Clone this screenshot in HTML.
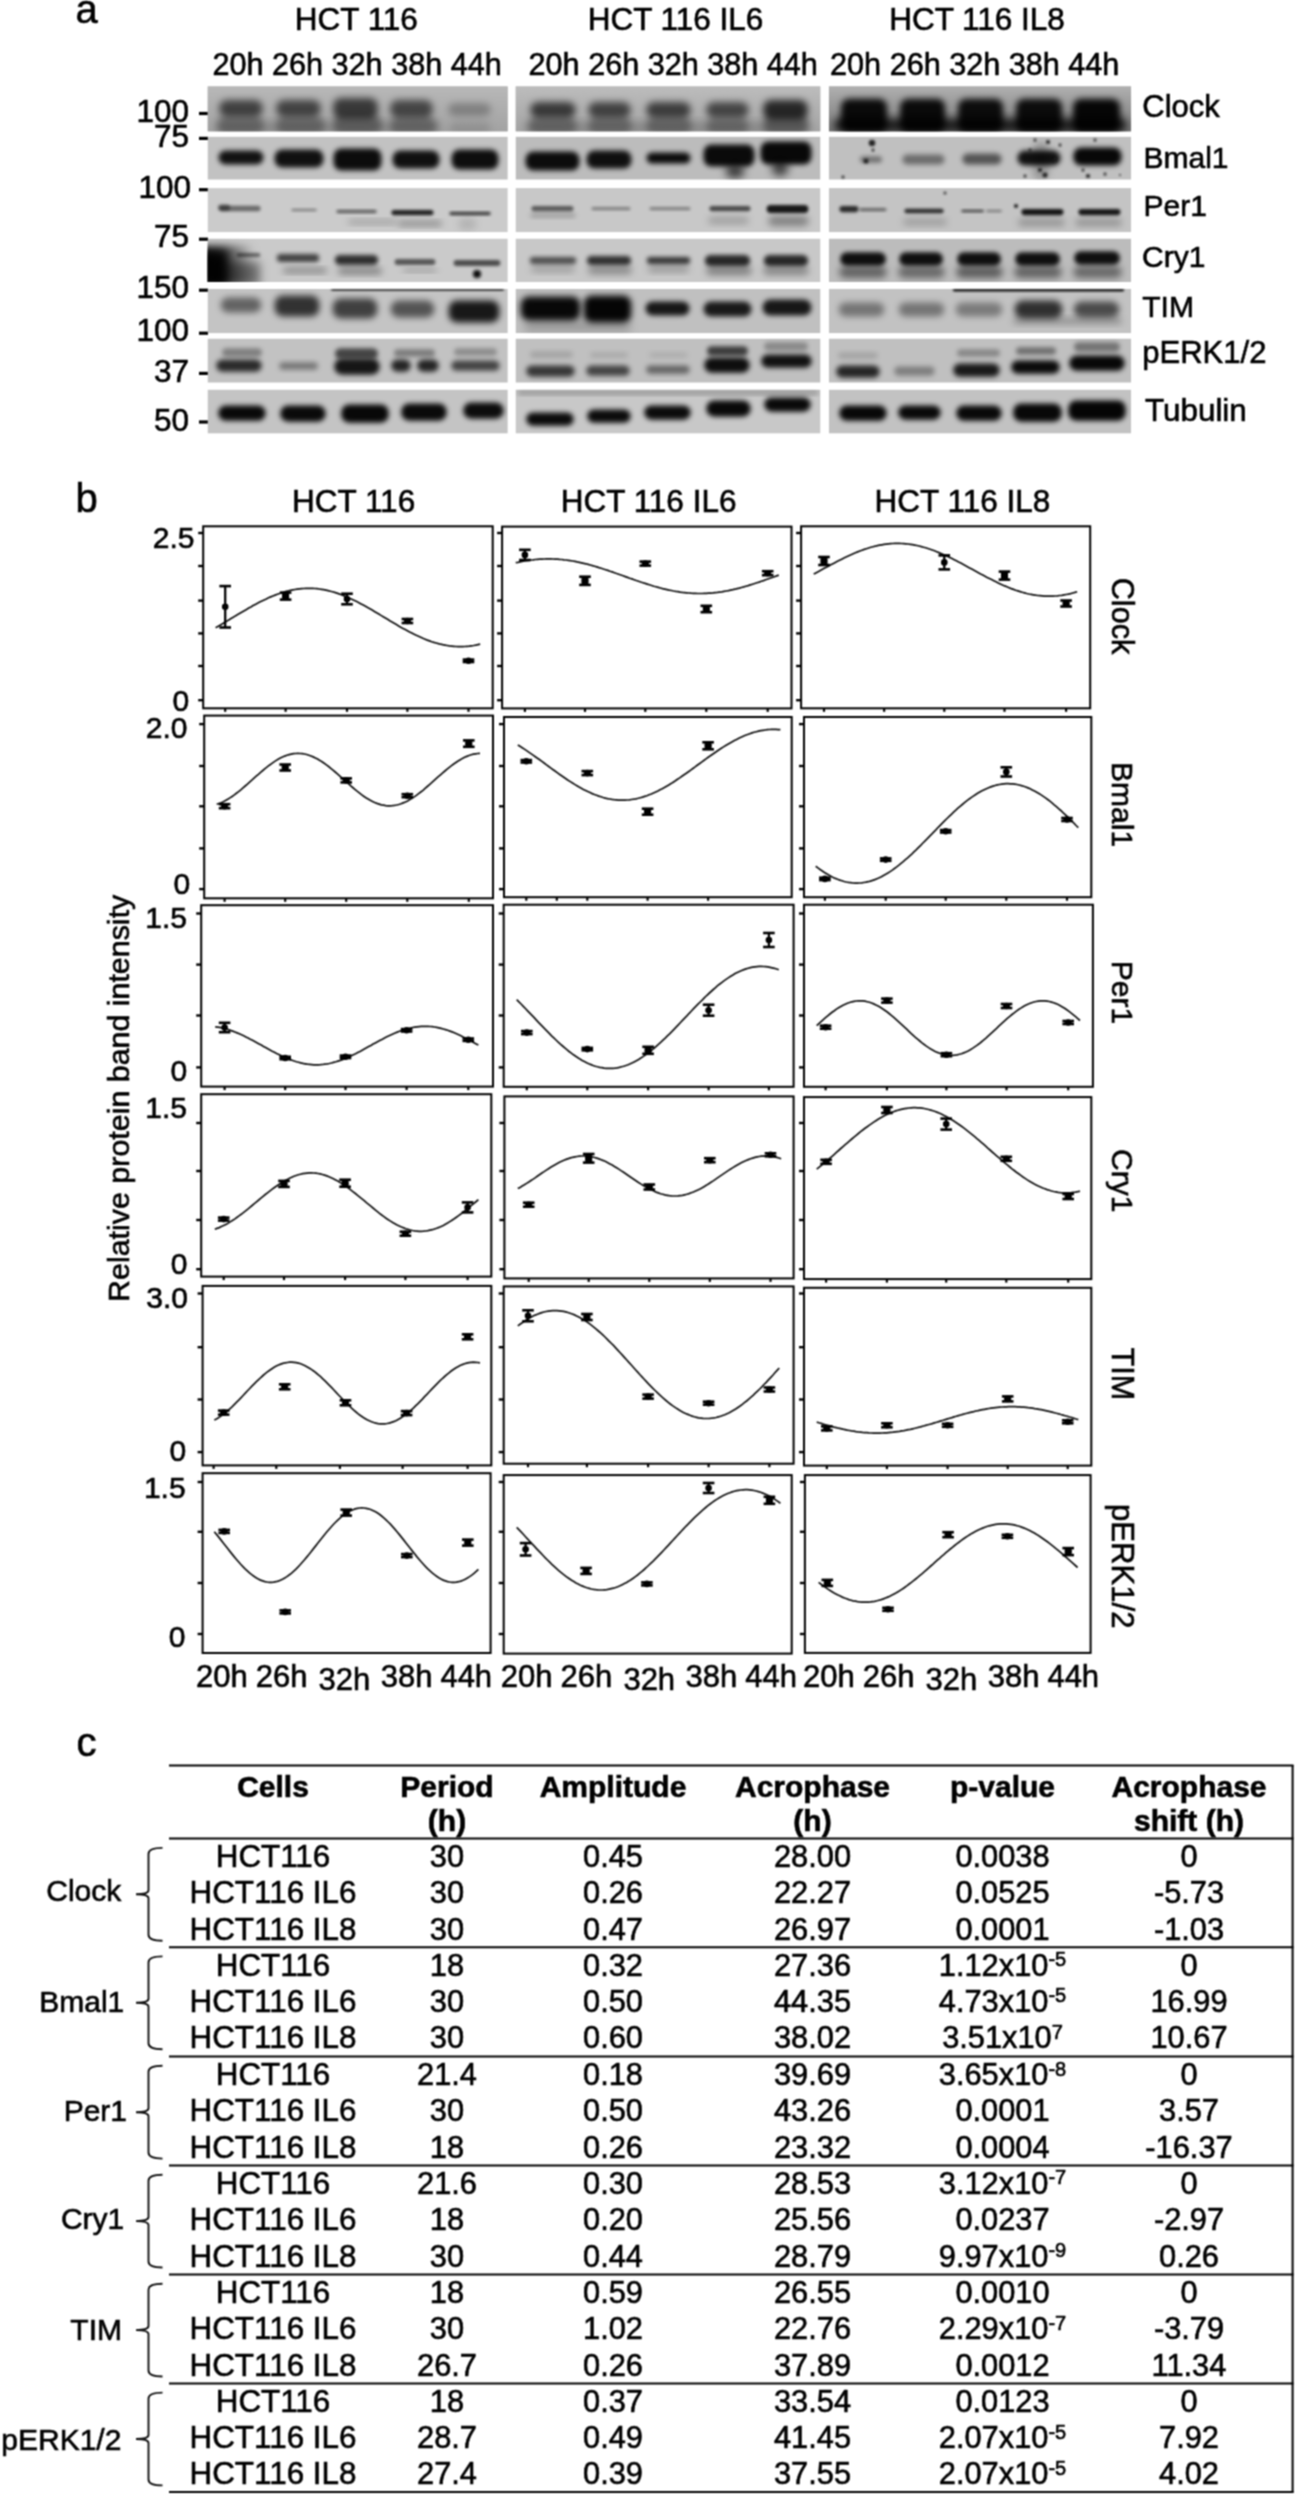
<!DOCTYPE html><html><head><meta charset="utf-8"><title>Figure</title><style>html,body{margin:0;padding:0;background:#fff;}body{width:1295px;height:2495px;overflow:hidden;}svg{display:block;}text{stroke:#000;stroke-width:0.6px;}</style></head><body>
<div id="w">
<svg width="1295" height="2495" viewBox="0 0 1295 2495" font-family="'Liberation Sans', Arial, sans-serif" fill="#000">
<rect width="1295" height="2495" fill="#fff"/>
<filter id="soft" x="0" y="0" width="1295" height="2495" filterUnits="userSpaceOnUse" color-interpolation-filters="sRGB"><feConvolveMatrix order="3" kernelMatrix="1 2 1 2 4 2 1 2 1" divisor="16" edgeMode="duplicate"/></filter>
<g filter="url(#soft)">
<rect width="1295" height="2495" fill="#fff"/>
<text x="75.5" y="22.5" font-size="40">a</text>
<text x="356.3" y="30.3" font-size="31.5" text-anchor="middle">HCT 116</text>
<text x="675.5" y="30.3" font-size="31.5" text-anchor="middle">HCT 116 IL6</text>
<text x="977.0" y="30.3" font-size="31.5" text-anchor="middle">HCT 116 IL8</text>
<text x="212.5" y="74.6" font-size="30.6">20h 26h 32h 38h 44h</text>
<text x="528.6" y="74.6" font-size="30.6">20h 26h 32h 38h 44h</text>
<text x="830.1" y="74.6" font-size="30.6">20h 26h 32h 38h 44h</text>
<text x="189.0" y="121.8" font-size="31.5" text-anchor="end" stroke-width="0.9">100</text>
<rect x="199" y="111.9" width="9" height="3.2" fill="#000"/>
<text x="189.0" y="146.7" font-size="31.5" text-anchor="end" stroke-width="0.9">75</text>
<rect x="199" y="136.8" width="9" height="3.2" fill="#000"/>
<text x="191.0" y="197.6" font-size="31.5" text-anchor="end" stroke-width="0.9">100</text>
<rect x="199" y="188.1" width="9" height="3.2" fill="#000"/>
<text x="189.0" y="247.4" font-size="31.5" text-anchor="end" stroke-width="0.9">75</text>
<rect x="199" y="237.6" width="9" height="3.2" fill="#000"/>
<text x="189.0" y="297.9" font-size="31.5" text-anchor="end" stroke-width="0.9">150</text>
<rect x="199" y="288.6" width="9" height="3.2" fill="#000"/>
<text x="189.0" y="341.2" font-size="31.5" text-anchor="end" stroke-width="0.9">100</text>
<rect x="199" y="331.6" width="9" height="3.2" fill="#000"/>
<text x="189.0" y="381.6" font-size="31.5" text-anchor="end" stroke-width="0.9">37</text>
<rect x="199" y="371.8" width="9" height="3.2" fill="#000"/>
<text x="189.0" y="430.6" font-size="31.5" text-anchor="end" stroke-width="0.9">50</text>
<rect x="199" y="420.4" width="9" height="3.2" fill="#000"/>
<text x="1142.3" y="117.4" font-size="31">Clock</text>
<text x="1143.5" y="167.5" font-size="30">Bmal1</text>
<text x="1143.5" y="216.2" font-size="30">Per1</text>
<text x="1142.0" y="267.2" font-size="30">Cry1</text>
<text x="1142.3" y="317.2" font-size="30">TIM</text>
<text x="1142.3" y="363.0" font-size="31">pERK1/2</text>
<text x="1145.0" y="420.8" font-size="31.4">Tubulin</text>
<defs>
<filter id="f1" x="-50%" y="-50%" width="200%" height="200%"><feGaussianBlur stdDeviation="1"/></filter>
<filter id="f1_2" x="-50%" y="-50%" width="200%" height="200%"><feGaussianBlur stdDeviation="1.2"/></filter>
<filter id="f1_4" x="-50%" y="-50%" width="200%" height="200%"><feGaussianBlur stdDeviation="1.4"/></filter>
<filter id="f1_5" x="-50%" y="-50%" width="200%" height="200%"><feGaussianBlur stdDeviation="1.5"/></filter>
<filter id="f1_6" x="-50%" y="-50%" width="200%" height="200%"><feGaussianBlur stdDeviation="1.6"/></filter>
<filter id="f1_8" x="-50%" y="-50%" width="200%" height="200%"><feGaussianBlur stdDeviation="1.8"/></filter>
<filter id="f2" x="-50%" y="-50%" width="200%" height="200%"><feGaussianBlur stdDeviation="2"/></filter>
<filter id="f2_2" x="-50%" y="-50%" width="200%" height="200%"><feGaussianBlur stdDeviation="2.2"/></filter>
<filter id="f2_3" x="-50%" y="-50%" width="200%" height="200%"><feGaussianBlur stdDeviation="2.3"/></filter>
<filter id="f2_4" x="-50%" y="-50%" width="200%" height="200%"><feGaussianBlur stdDeviation="2.4"/></filter>
<filter id="f2_5" x="-50%" y="-50%" width="200%" height="200%"><feGaussianBlur stdDeviation="2.5"/></filter>
<filter id="f2_6" x="-50%" y="-50%" width="200%" height="200%"><feGaussianBlur stdDeviation="2.6"/></filter>
<filter id="f2_8" x="-50%" y="-50%" width="200%" height="200%"><feGaussianBlur stdDeviation="2.8"/></filter>
<filter id="f3" x="-50%" y="-50%" width="200%" height="200%"><feGaussianBlur stdDeviation="3"/></filter>
<filter id="f3_3" x="-50%" y="-50%" width="200%" height="200%"><feGaussianBlur stdDeviation="3.3"/></filter>
<filter id="f3_5" x="-50%" y="-50%" width="200%" height="200%"><feGaussianBlur stdDeviation="3.5"/></filter>
<filter id="f3_6" x="-50%" y="-50%" width="200%" height="200%"><feGaussianBlur stdDeviation="3.6"/></filter>
<filter id="f3_8" x="-50%" y="-50%" width="200%" height="200%"><feGaussianBlur stdDeviation="3.8"/></filter>
<filter id="f4" x="-50%" y="-50%" width="200%" height="200%"><feGaussianBlur stdDeviation="4"/></filter>
<filter id="f5" x="-50%" y="-50%" width="200%" height="200%"><feGaussianBlur stdDeviation="5"/></filter>
<clipPath id="c00"><rect x="207.5" y="86.3" width="300.3" height="45.3"/></clipPath>
<clipPath id="c01"><rect x="515.5" y="86.3" width="305.0" height="45.3"/></clipPath>
<clipPath id="c02"><rect x="828.8" y="86.3" width="302.4" height="45.3"/></clipPath>
<clipPath id="c10"><rect x="207.5" y="136.6" width="300.3" height="43.1"/></clipPath>
<clipPath id="c11"><rect x="515.5" y="136.6" width="305.0" height="43.1"/></clipPath>
<clipPath id="c12"><rect x="828.8" y="136.6" width="302.4" height="43.1"/></clipPath>
<clipPath id="c20"><rect x="207.5" y="188.1" width="300.3" height="44.2"/></clipPath>
<clipPath id="c21"><rect x="515.5" y="188.1" width="305.0" height="44.2"/></clipPath>
<clipPath id="c22"><rect x="828.8" y="188.1" width="302.4" height="44.2"/></clipPath>
<clipPath id="c30"><rect x="207.5" y="238.5" width="300.3" height="43.5"/></clipPath>
<clipPath id="c31"><rect x="515.5" y="238.5" width="305.0" height="43.5"/></clipPath>
<clipPath id="c32"><rect x="828.8" y="238.5" width="302.4" height="43.5"/></clipPath>
<clipPath id="c40"><rect x="207.5" y="288.8" width="300.3" height="44.5"/></clipPath>
<clipPath id="c41"><rect x="515.5" y="288.8" width="305.0" height="44.5"/></clipPath>
<clipPath id="c42"><rect x="828.8" y="288.8" width="302.4" height="44.5"/></clipPath>
<clipPath id="c50"><rect x="207.5" y="338.5" width="300.3" height="44.2"/></clipPath>
<clipPath id="c51"><rect x="515.5" y="338.5" width="305.0" height="44.2"/></clipPath>
<clipPath id="c52"><rect x="828.8" y="338.5" width="302.4" height="44.2"/></clipPath>
<clipPath id="c60"><rect x="207.5" y="389.6" width="300.3" height="44.0"/></clipPath>
<clipPath id="c61"><rect x="515.5" y="389.6" width="305.0" height="44.0"/></clipPath>
<clipPath id="c62"><rect x="828.8" y="389.6" width="302.4" height="44.0"/></clipPath>
</defs>
<g clip-path="url(#c00)">
<rect x="207.5" y="86.3" width="300.3" height="45.3" fill="rgb(180,180,180)"/>
<linearGradient id="g00" x1="0" y1="0" x2="0" y2="1"><stop offset="0" stop-color="rgb(184,184,184)"/><stop offset="1" stop-color="rgb(162,162,162)"/></linearGradient>
<rect x="207.5" y="86.3" width="300.3" height="45.3" fill="url(#g00)"/>
<rect x="219.2" y="99.9" width="43.5" height="17.1" rx="8.0" fill="#000" fill-opacity="0.631" filter="url(#f3_6)"/>
<rect x="276.2" y="99.9" width="44.5" height="17.1" rx="8.0" fill="#000" fill-opacity="0.620" filter="url(#f3_6)"/>
<rect x="333.2" y="97.9" width="44.5" height="21.1" rx="8.0" fill="#000" fill-opacity="0.676" filter="url(#f3_6)"/>
<rect x="390.2" y="99.9" width="42.5" height="18.1" rx="8.0" fill="#000" fill-opacity="0.605" filter="url(#f3_6)"/>
<rect x="448.2" y="102.9" width="42.5" height="13.1" rx="6.6" fill="#000" fill-opacity="0.257" filter="url(#f3_6)"/>
<rect x="217.4" y="116.1" width="46.2" height="17.9" rx="8.0" fill="#000" fill-opacity="0.310" filter="url(#f3_8)"/>
<rect x="276.4" y="116.1" width="48.2" height="17.9" rx="8.0" fill="#000" fill-opacity="0.310" filter="url(#f3_8)"/>
<rect x="333.4" y="115.1" width="48.2" height="18.9" rx="8.0" fill="#000" fill-opacity="0.352" filter="url(#f3_8)"/>
<rect x="390.4" y="117.1" width="46.2" height="16.9" rx="8.0" fill="#000" fill-opacity="0.301" filter="url(#f3_8)"/>
<rect x="449.4" y="122.1" width="41.2" height="11.9" rx="5.9" fill="#000" fill-opacity="0.117" filter="url(#f3_8)"/>
<rect x="214.5" y="121.7" width="226.0" height="10.6" rx="5.3" fill="#000" fill-opacity="0.199" filter="url(#f5)"/>
</g>
<g clip-path="url(#c01)">
<rect x="515.5" y="86.3" width="305.0" height="45.3" fill="rgb(184,184,184)"/>
<linearGradient id="g01" x1="0" y1="0" x2="0" y2="1"><stop offset="0" stop-color="rgb(188,188,188)"/><stop offset="1" stop-color="rgb(164,164,164)"/></linearGradient>
<rect x="515.5" y="86.3" width="305.0" height="45.3" fill="url(#g01)"/>
<rect x="530.2" y="101.9" width="45.5" height="16.1" rx="8.0" fill="#000" fill-opacity="0.677" filter="url(#f3_6)"/>
<rect x="588.2" y="101.9" width="42.5" height="16.1" rx="8.0" fill="#000" fill-opacity="0.633" filter="url(#f3_6)"/>
<rect x="646.2" y="101.9" width="44.5" height="16.1" rx="8.0" fill="#000" fill-opacity="0.655" filter="url(#f3_6)"/>
<rect x="706.2" y="101.9" width="42.5" height="16.1" rx="8.0" fill="#000" fill-opacity="0.611" filter="url(#f3_6)"/>
<rect x="763.2" y="99.9" width="44.5" height="20.1" rx="8.0" fill="#000" fill-opacity="0.781" filter="url(#f3_6)"/>
<rect x="528.4" y="117.1" width="48.2" height="16.9" rx="8.0" fill="#000" fill-opacity="0.317" filter="url(#f3_8)"/>
<rect x="588.4" y="117.1" width="43.2" height="16.9" rx="8.0" fill="#000" fill-opacity="0.306" filter="url(#f3_8)"/>
<rect x="646.4" y="117.1" width="45.2" height="16.9" rx="8.0" fill="#000" fill-opacity="0.317" filter="url(#f3_8)"/>
<rect x="706.4" y="118.1" width="42.2" height="15.9" rx="7.9" fill="#000" fill-opacity="0.298" filter="url(#f3_8)"/>
<rect x="763.4" y="116.1" width="45.2" height="17.9" rx="8.0" fill="#000" fill-opacity="0.379" filter="url(#f3_8)"/>
<rect x="524.5" y="121.7" width="286.0" height="10.6" rx="5.3" fill="#000" fill-opacity="0.210" filter="url(#f5)"/>
</g>
<g clip-path="url(#c02)">
<rect x="828.8" y="86.3" width="302.4" height="45.3" fill="rgb(168,168,168)"/>
<linearGradient id="g02" x1="0" y1="0" x2="0" y2="1"><stop offset="0" stop-color="rgb(176,176,176)"/><stop offset="1" stop-color="rgb(120,120,120)"/></linearGradient>
<rect x="828.8" y="86.3" width="302.4" height="45.3" fill="url(#g02)"/>
<rect x="841.0" y="98.8" width="46.1" height="33.4" rx="8.0" fill="#000" fill-opacity="0.932" filter="url(#f3_3)"/>
<rect x="900.0" y="98.8" width="45.1" height="33.4" rx="8.0" fill="#000" fill-opacity="0.932" filter="url(#f3_3)"/>
<rect x="958.0" y="98.8" width="45.1" height="33.4" rx="8.0" fill="#000" fill-opacity="0.920" filter="url(#f3_3)"/>
<rect x="1016.0" y="98.8" width="46.1" height="33.4" rx="8.0" fill="#000" fill-opacity="0.920" filter="url(#f3_3)"/>
<rect x="1073.0" y="98.8" width="47.1" height="33.4" rx="8.0" fill="#000" fill-opacity="0.955" filter="url(#f3_3)"/>
<rect x="833.6" y="118.2" width="293.8" height="13.7" rx="6.8" fill="#000" fill-opacity="0.784" filter="url(#f4)"/>
</g>
<g clip-path="url(#c10)">
<rect x="207.5" y="136.6" width="300.3" height="43.1" fill="rgb(194,194,194)"/>
<rect x="218.5" y="150.5" width="45.0" height="14.0" rx="7.0" fill="#000" fill-opacity="0.908" filter="url(#f2_8)"/>
<rect x="274.5" y="149.5" width="49.0" height="18.0" rx="8.0" fill="#000" fill-opacity="0.919" filter="url(#f2_8)"/>
<rect x="333.5" y="148.5" width="48.0" height="22.0" rx="8.0" fill="#000" fill-opacity="0.938" filter="url(#f2_8)"/>
<rect x="392.5" y="150.5" width="47.0" height="18.0" rx="8.0" fill="#000" fill-opacity="0.919" filter="url(#f2_8)"/>
<rect x="451.5" y="149.5" width="47.0" height="20.0" rx="8.0" fill="#000" fill-opacity="0.928" filter="url(#f2_8)"/>
</g>
<g clip-path="url(#c11)">
<rect x="515.5" y="136.6" width="305.0" height="43.1" fill="rgb(188,188,188)"/>
<rect x="525.5" y="151.5" width="54.0" height="19.0" rx="8.0" fill="#000" fill-opacity="0.937" filter="url(#f2_8)"/>
<rect x="586.5" y="150.5" width="45.0" height="18.0" rx="8.0" fill="#000" fill-opacity="0.916" filter="url(#f2_8)"/>
<rect x="646.5" y="152.5" width="44.0" height="11.0" rx="5.5" fill="#000" fill-opacity="0.941" filter="url(#f2_8)"/>
<rect x="703.5" y="144.5" width="51.0" height="22.0" rx="8.0" fill="#000" fill-opacity="0.947" filter="url(#f2_8)"/>
<rect x="760.5" y="141.5" width="51.0" height="23.0" rx="8.0" fill="#000" fill-opacity="0.957" filter="url(#f2_8)"/>
<rect x="725.6" y="164.2" width="18.8" height="13.7" rx="6.8" fill="#000" fill-opacity="0.701" filter="url(#f4)"/>
<rect x="771.6" y="160.2" width="16.8" height="15.7" rx="7.8" fill="#000" fill-opacity="0.685" filter="url(#f4)"/>
</g>
<g clip-path="url(#c12)">
<rect x="828.8" y="136.6" width="302.4" height="43.1" fill="rgb(192,192,192)"/>
<rect x="860.0" y="156.2" width="22.0" height="6.6" rx="3.3" fill="#000" fill-opacity="0.402" filter="url(#f2_2)"/>
<rect x="902.3" y="154.4" width="42.3" height="10.2" rx="5.1" fill="#000" fill-opacity="0.439" filter="url(#f2_6)"/>
<rect x="962.3" y="153.4" width="39.3" height="11.2" rx="5.6" fill="#000" fill-opacity="0.559" filter="url(#f2_6)"/>
<rect x="1017.3" y="150.4" width="43.3" height="15.2" rx="7.6" fill="#000" fill-opacity="0.909" filter="url(#f2_6)"/>
<rect x="1073.3" y="147.4" width="48.3" height="18.2" rx="8.0" fill="#000" fill-opacity="0.959" filter="url(#f2_6)"/>
<rect x="1033.2" y="141.9" width="15.7" height="38.2" rx="8.0" fill="#000" fill-opacity="0.224" filter="url(#f3_5)"/>
<circle cx="872" cy="143" r="3.2" fill="#222" filter="url(#f1)"/>
<circle cx="873" cy="150" r="1.5" fill="#222" filter="url(#f1)"/>
<circle cx="866" cy="161" r="2.5" fill="#222" filter="url(#f1)"/>
<circle cx="1035" cy="140" r="1.5" fill="#222" filter="url(#f1)"/>
<circle cx="1048" cy="142" r="2" fill="#222" filter="url(#f1)"/>
<circle cx="1030" cy="150" r="1.5" fill="#222" filter="url(#f1)"/>
<circle cx="1060" cy="145" r="1.5" fill="#222" filter="url(#f1)"/>
<circle cx="1045" cy="175" r="2.5" fill="#222" filter="url(#f1)"/>
<circle cx="1025" cy="176" r="1.5" fill="#222" filter="url(#f1)"/>
<circle cx="1040" cy="170" r="2" fill="#222" filter="url(#f1)"/>
<circle cx="1083" cy="170" r="1.5" fill="#222" filter="url(#f1)"/>
<circle cx="1095" cy="140" r="1.5" fill="#222" filter="url(#f1)"/>
<circle cx="1105" cy="174" r="1.5" fill="#222" filter="url(#f1)"/>
<circle cx="1120" cy="175" r="1" fill="#222" filter="url(#f1)"/>
<circle cx="843" cy="177" r="1.5" fill="#222" filter="url(#f1)"/>
<circle cx="1088" cy="176" r="2" fill="#222" filter="url(#f1)"/>
<circle cx="1055" cy="160" r="2" fill="#222" filter="url(#f1)"/>
</g>
<g clip-path="url(#c20)">
<rect x="207.5" y="188.1" width="300.3" height="44.2" fill="rgb(203,203,203)"/>
<rect x="219.3" y="205.8" width="41.3" height="5.4" rx="2.7" fill="#000" fill-opacity="0.484" filter="url(#f1_5)"/>
<rect x="291.4" y="208.8" width="25.3" height="2.4" rx="1.2" fill="#000" fill-opacity="0.387" filter="url(#f1_5)"/>
<rect x="336.4" y="209.8" width="40.3" height="3.4" rx="1.7" fill="#000" fill-opacity="0.539" filter="url(#f1_5)"/>
<rect x="391.4" y="209.9" width="42.1" height="5.3" rx="2.6" fill="#000" fill-opacity="0.848" filter="url(#f1_6)"/>
<rect x="449.4" y="211.8" width="41.3" height="3.4" rx="1.7" fill="#000" fill-opacity="0.712" filter="url(#f1_5)"/>
<rect x="348.1" y="219.9" width="48.7" height="4.2" rx="2.1" fill="#000" fill-opacity="0.272" filter="url(#f3_5)"/>
<rect x="398.1" y="220.9" width="43.7" height="5.2" rx="2.6" fill="#000" fill-opacity="0.344" filter="url(#f3_5)"/>
<rect x="458.1" y="217.9" width="18.7" height="12.2" rx="6.1" fill="#000" fill-opacity="0.113" filter="url(#f3_5)"/>
<rect x="218" y="204.5" width="12" height="6" rx="3" fill="#000" fill-opacity=".45" filter="url(#f1_5)"/>
</g>
<g clip-path="url(#c21)">
<rect x="515.5" y="188.1" width="305.0" height="44.2" fill="rgb(200,200,200)"/>
<rect x="531.4" y="205.9" width="42.1" height="5.3" rx="2.6" fill="#000" fill-opacity="0.555" filter="url(#f1_6)"/>
<rect x="591.4" y="206.9" width="39.1" height="3.3" rx="1.6" fill="#000" fill-opacity="0.361" filter="url(#f1_6)"/>
<rect x="649.4" y="206.9" width="41.1" height="3.3" rx="1.6" fill="#000" fill-opacity="0.361" filter="url(#f1_6)"/>
<rect x="709.4" y="205.9" width="41.1" height="5.3" rx="2.6" fill="#000" fill-opacity="0.639" filter="url(#f1_6)"/>
<rect x="766.6" y="205.0" width="41.8" height="8.1" rx="4.0" fill="#000" fill-opacity="0.882" filter="url(#f1_8)"/>
<rect x="768.1" y="215.9" width="40.7" height="10.2" rx="5.1" fill="#000" fill-opacity="0.351" filter="url(#f3_5)"/>
<rect x="708.1" y="216.9" width="40.7" height="7.2" rx="3.6" fill="#000" fill-opacity="0.215" filter="url(#f3_5)"/>
<rect x="530.2" y="213.3" width="45.5" height="4.3" rx="2.2" fill="#000" fill-opacity="0.246" filter="url(#f2_5)"/>
</g>
<g clip-path="url(#c22)">
<rect x="828.8" y="188.1" width="302.4" height="44.2" fill="rgb(196,196,196)"/>
<rect x="839.4" y="205.9" width="19.1" height="6.3" rx="3.1" fill="#000" fill-opacity="0.784" filter="url(#f1_6)"/>
<rect x="859.4" y="207.9" width="27.1" height="3.3" rx="1.6" fill="#000" fill-opacity="0.486" filter="url(#f1_6)"/>
<rect x="904.4" y="208.8" width="39.3" height="4.4" rx="2.2" fill="#000" fill-opacity="0.781" filter="url(#f1_5)"/>
<rect x="961.3" y="209.8" width="22.5" height="2.5" rx="1.2" fill="#000" fill-opacity="0.701" filter="url(#f1_4)"/>
<rect x="986.3" y="209.8" width="15.5" height="2.5" rx="1.2" fill="#000" fill-opacity="0.375" filter="url(#f1_4)"/>
<rect x="1021.4" y="208.9" width="42.1" height="6.3" rx="3.1" fill="#000" fill-opacity="0.902" filter="url(#f1_6)"/>
<rect x="1078.4" y="208.9" width="42.1" height="6.3" rx="3.1" fill="#000" fill-opacity="0.892" filter="url(#f1_6)"/>
<rect x="903.1" y="218.9" width="43.7" height="6.2" rx="3.1" fill="#000" fill-opacity="0.228" filter="url(#f3_5)"/>
<rect x="1018.1" y="218.9" width="46.7" height="7.2" rx="3.6" fill="#000" fill-opacity="0.263" filter="url(#f3_5)"/>
<rect x="1075.2" y="218.9" width="46.7" height="7.2" rx="3.6" fill="#000" fill-opacity="0.263" filter="url(#f3_5)"/>
<circle cx="1016" cy="206" r="2" fill="#222" filter="url(#f1)"/><circle cx="945" cy="193" r="1.5" fill="#333" filter="url(#f1)"/>
</g>
<g clip-path="url(#c30)">
<rect x="207.5" y="238.5" width="300.3" height="43.5" fill="rgb(202,202,202)"/>
<rect x="236.6" y="253.0" width="23.8" height="4.1" rx="2.0" fill="#000" fill-opacity="0.495" filter="url(#f1_8)"/>
<rect x="276.8" y="254.1" width="42.4" height="7.8" rx="3.9" fill="#000" fill-opacity="0.677" filter="url(#f2)"/>
<rect x="334.8" y="255.1" width="43.4" height="9.8" rx="4.9" fill="#000" fill-opacity="0.773" filter="url(#f2)"/>
<rect x="394.6" y="259.0" width="40.8" height="6.1" rx="3.0" fill="#000" fill-opacity="0.567" filter="url(#f1_8)"/>
<rect x="453.6" y="260.0" width="46.8" height="6.1" rx="3.0" fill="#000" fill-opacity="0.622" filter="url(#f1_8)"/>
<rect x="283.1" y="267.9" width="43.7" height="5.2" rx="2.6" fill="#000" fill-opacity="0.382" filter="url(#f3_5)"/>
<rect x="338.1" y="267.9" width="43.7" height="6.2" rx="3.1" fill="#000" fill-opacity="0.411" filter="url(#f3_5)"/>
<rect x="403.1" y="268.9" width="33.7" height="3.2" rx="1.6" fill="#000" fill-opacity="0.335" filter="url(#f3_5)"/>
<linearGradient id="cs" x1="0" y1="0" x2="1" y2="0"><stop offset="0" stop-color="#000" stop-opacity=".95"/><stop offset=".45" stop-color="#000" stop-opacity=".8"/><stop offset="1" stop-color="#000" stop-opacity="0"/></linearGradient>
<rect x="196" y="246" width="58" height="40" fill="url(#cs)" filter="url(#f4)"/>
<rect x="196" y="252" width="30" height="34" fill="#000" fill-opacity=".92" filter="url(#f4)"/>
<rect x="215" y="262" width="45" height="24" fill="#000" fill-opacity=".45" filter="url(#f5)"/>
<circle cx="477" cy="274" r="4" fill="#111" filter="url(#f1_5)"/>
</g>
<g clip-path="url(#c31)">
<rect x="515.5" y="238.5" width="305.0" height="43.5" fill="rgb(200,200,200)"/>
<rect x="529.8" y="257.1" width="46.4" height="6.8" rx="3.4" fill="#000" fill-opacity="0.614" filter="url(#f2)"/>
<rect x="586.8" y="256.1" width="44.4" height="8.8" rx="4.4" fill="#000" fill-opacity="0.761" filter="url(#f2)"/>
<rect x="646.8" y="257.1" width="43.4" height="6.8" rx="3.4" fill="#000" fill-opacity="0.734" filter="url(#f2)"/>
<rect x="704.8" y="255.1" width="45.4" height="10.8" rx="5.4" fill="#000" fill-opacity="0.805" filter="url(#f2)"/>
<rect x="763.8" y="255.1" width="44.4" height="10.8" rx="5.4" fill="#000" fill-opacity="0.805" filter="url(#f2)"/>
<rect x="588.1" y="265.9" width="43.7" height="8.2" rx="4.1" fill="#000" fill-opacity="0.329" filter="url(#f3_5)"/>
<rect x="706.1" y="265.9" width="45.7" height="9.2" rx="4.6" fill="#000" fill-opacity="0.369" filter="url(#f3_5)"/>
<rect x="763.1" y="265.9" width="45.7" height="9.2" rx="4.6" fill="#000" fill-opacity="0.339" filter="url(#f3_5)"/>
<rect x="531.1" y="265.9" width="43.7" height="6.2" rx="3.1" fill="#000" fill-opacity="0.240" filter="url(#f3_5)"/>
<rect x="648.1" y="265.9" width="40.7" height="6.2" rx="3.1" fill="#000" fill-opacity="0.280" filter="url(#f3_5)"/>
</g>
<g clip-path="url(#c32)">
<rect x="828.8" y="238.5" width="302.4" height="43.5" fill="rgb(188,188,188)"/>
<rect x="840.1" y="252.2" width="45.9" height="13.5" rx="6.8" fill="#000" fill-opacity="0.918" filter="url(#f2_3)"/>
<rect x="899.1" y="252.2" width="43.9" height="13.5" rx="6.8" fill="#000" fill-opacity="0.918" filter="url(#f2_3)"/>
<rect x="957.1" y="252.2" width="43.9" height="13.5" rx="6.8" fill="#000" fill-opacity="0.918" filter="url(#f2_3)"/>
<rect x="1015.1" y="252.2" width="44.9" height="13.5" rx="6.8" fill="#000" fill-opacity="0.918" filter="url(#f2_3)"/>
<rect x="1074.1" y="251.2" width="45.9" height="13.5" rx="6.8" fill="#000" fill-opacity="0.918" filter="url(#f2_3)"/>
<rect x="839.1" y="265.9" width="47.7" height="12.2" rx="6.1" fill="#000" fill-opacity="0.480" filter="url(#f3_5)"/>
<rect x="898.1" y="265.9" width="46.7" height="12.2" rx="6.1" fill="#000" fill-opacity="0.451" filter="url(#f3_5)"/>
<rect x="956.1" y="265.9" width="46.7" height="12.2" rx="6.1" fill="#000" fill-opacity="0.509" filter="url(#f3_5)"/>
<rect x="1014.1" y="265.9" width="47.7" height="12.2" rx="6.1" fill="#000" fill-opacity="0.480" filter="url(#f3_5)"/>
<rect x="1073.2" y="265.9" width="48.7" height="12.2" rx="6.1" fill="#000" fill-opacity="0.451" filter="url(#f3_5)"/>
</g>
<g clip-path="url(#c40)">
<rect x="207.5" y="288.8" width="300.3" height="44.5" fill="rgb(196,196,196)"/>
<rect x="220.7" y="297.6" width="40.6" height="14.8" rx="7.4" fill="#000" fill-opacity="0.497" filter="url(#f3)"/>
<rect x="274.7" y="295.6" width="44.6" height="20.8" rx="8.0" fill="#000" fill-opacity="0.745" filter="url(#f3)"/>
<rect x="332.7" y="298.6" width="44.6" height="19.8" rx="8.0" fill="#000" fill-opacity="0.674" filter="url(#f3)"/>
<rect x="390.7" y="300.6" width="43.6" height="16.8" rx="8.0" fill="#000" fill-opacity="0.574" filter="url(#f3)"/>
<rect x="448.7" y="300.6" width="50.6" height="21.8" rx="8.0" fill="#000" fill-opacity="0.878" filter="url(#f3)"/>
<rect x="331.1" y="288.6" width="172.8" height="2.2" rx="1.1" fill="#000" fill-opacity="0.803" filter="url(#f1_2)"/>
</g>
<g clip-path="url(#c41)">
<rect x="515.5" y="288.8" width="305.0" height="44.5" fill="rgb(192,192,192)"/>
<rect x="520.7" y="296.6" width="59.6" height="23.8" rx="8.0" fill="#000" fill-opacity="0.958" filter="url(#f3)"/>
<rect x="583.7" y="295.6" width="47.6" height="26.8" rx="8.0" fill="#000" fill-opacity="0.974" filter="url(#f3)"/>
<rect x="645.5" y="301.5" width="44.0" height="14.0" rx="7.0" fill="#000" fill-opacity="0.886" filter="url(#f2_8)"/>
<rect x="703.5" y="301.5" width="48.0" height="15.0" rx="7.5" fill="#000" fill-opacity="0.871" filter="url(#f2_8)"/>
<rect x="762.5" y="299.5" width="49.0" height="16.0" rx="8.0" fill="#000" fill-opacity="0.879" filter="url(#f2_8)"/>
<rect x="523.6" y="320.2" width="107.8" height="11.7" rx="5.8" fill="#000" fill-opacity="0.195" filter="url(#f4)"/>
</g>
<g clip-path="url(#c42)">
<rect x="828.8" y="288.8" width="302.4" height="44.5" fill="rgb(194,194,194)"/>
<rect x="838.7" y="302.6" width="45.6" height="13.8" rx="6.9" fill="#000" fill-opacity="0.400" filter="url(#f3)"/>
<rect x="898.7" y="302.6" width="45.6" height="13.8" rx="6.9" fill="#000" fill-opacity="0.400" filter="url(#f3)"/>
<rect x="955.7" y="302.6" width="46.6" height="13.8" rx="6.9" fill="#000" fill-opacity="0.369" filter="url(#f3)"/>
<rect x="1014.7" y="300.6" width="47.6" height="17.8" rx="8.0" fill="#000" fill-opacity="0.755" filter="url(#f3)"/>
<rect x="1073.7" y="301.6" width="45.6" height="15.8" rx="7.9" fill="#000" fill-opacity="0.614" filter="url(#f3)"/>
<rect x="952.9" y="288.5" width="171.2" height="2.9" rx="1.5" fill="#000" fill-opacity="0.898" filter="url(#f1)"/>
<rect x="1013.1" y="317.9" width="108.7" height="6.2" rx="3.1" fill="#000" fill-opacity="0.280" filter="url(#f3_5)"/>
</g>
<g clip-path="url(#c50)">
<rect x="207.5" y="338.5" width="300.3" height="44.2" fill="rgb(194,194,194)"/>
<rect x="222.0" y="348.2" width="40.0" height="8.6" rx="4.3" fill="#000" fill-opacity="0.347" filter="url(#f2_2)"/>
<rect x="335.0" y="348.2" width="43.0" height="10.6" rx="5.3" fill="#000" fill-opacity="0.649" filter="url(#f2_2)"/>
<rect x="394.0" y="349.2" width="41.0" height="7.6" rx="3.8" fill="#000" fill-opacity="0.360" filter="url(#f2_2)"/>
<rect x="454.0" y="348.2" width="43.0" height="7.6" rx="3.8" fill="#000" fill-opacity="0.275" filter="url(#f2_2)"/>
<rect x="216.2" y="359.4" width="45.5" height="12.3" rx="6.2" fill="#000" fill-opacity="0.779" filter="url(#f2_5)"/>
<rect x="279.2" y="362.3" width="38.7" height="7.4" rx="3.7" fill="#000" fill-opacity="0.388" filter="url(#f2_4)"/>
<rect x="334.2" y="358.4" width="45.5" height="16.3" rx="8.0" fill="#000" fill-opacity="0.888" filter="url(#f2_5)"/>
<rect x="391.2" y="359.4" width="19.5" height="12.3" rx="6.2" fill="#000" fill-opacity="0.816" filter="url(#f2_5)"/>
<rect x="417.2" y="359.4" width="21.5" height="12.3" rx="6.2" fill="#000" fill-opacity="0.815" filter="url(#f2_5)"/>
<rect x="451.2" y="360.4" width="48.5" height="10.3" rx="5.2" fill="#000" fill-opacity="0.655" filter="url(#f2_5)"/>
</g>
<g clip-path="url(#c51)">
<rect x="515.5" y="338.5" width="305.0" height="44.2" fill="rgb(192,192,192)"/>
<rect x="526.2" y="365.4" width="48.5" height="11.3" rx="5.7" fill="#000" fill-opacity="0.715" filter="url(#f2_5)"/>
<rect x="586.2" y="365.4" width="43.5" height="10.3" rx="5.2" fill="#000" fill-opacity="0.651" filter="url(#f2_5)"/>
<rect x="646.2" y="365.4" width="43.5" height="8.3" rx="4.2" fill="#000" fill-opacity="0.473" filter="url(#f2_5)"/>
<rect x="704.2" y="357.4" width="45.5" height="15.3" rx="7.7" fill="#000" fill-opacity="0.929" filter="url(#f2_5)"/>
<rect x="761.2" y="354.4" width="50.5" height="13.3" rx="6.7" fill="#000" fill-opacity="0.913" filter="url(#f2_5)"/>
<rect x="530.2" y="351.4" width="42.5" height="6.3" rx="3.2" fill="#000" fill-opacity="0.158" filter="url(#f2_5)"/>
<rect x="590.2" y="352.4" width="37.5" height="5.3" rx="2.7" fill="#000" fill-opacity="0.125" filter="url(#f2_5)"/>
<rect x="649.2" y="352.4" width="38.5" height="5.3" rx="2.7" fill="#000" fill-opacity="0.103" filter="url(#f2_5)"/>
<rect x="707.0" y="346.2" width="41.0" height="9.6" rx="4.8" fill="#000" fill-opacity="0.686" filter="url(#f2_2)"/>
<rect x="764.0" y="342.2" width="44.0" height="8.6" rx="4.3" fill="#000" fill-opacity="0.285" filter="url(#f2_2)"/>
</g>
<g clip-path="url(#c52)">
<rect x="828.8" y="338.5" width="302.4" height="44.2" fill="rgb(192,192,192)"/>
<rect x="836.2" y="365.4" width="43.5" height="12.3" rx="6.2" fill="#000" fill-opacity="0.803" filter="url(#f2_5)"/>
<rect x="894.2" y="366.4" width="40.5" height="9.3" rx="4.7" fill="#000" fill-opacity="0.345" filter="url(#f2_5)"/>
<rect x="953.2" y="363.4" width="46.5" height="13.3" rx="6.7" fill="#000" fill-opacity="0.871" filter="url(#f2_5)"/>
<rect x="1011.2" y="360.4" width="48.5" height="13.3" rx="6.7" fill="#000" fill-opacity="0.945" filter="url(#f2_5)"/>
<rect x="1069.2" y="355.4" width="55.5" height="15.3" rx="7.7" fill="#000" fill-opacity="0.960" filter="url(#f2_5)"/>
<rect x="838.2" y="352.4" width="39.5" height="6.3" rx="3.2" fill="#000" fill-opacity="0.158" filter="url(#f2_5)"/>
<rect x="957.0" y="349.2" width="43.0" height="7.6" rx="3.8" fill="#000" fill-opacity="0.295" filter="url(#f2_2)"/>
<rect x="1016.0" y="347.2" width="40.0" height="7.6" rx="3.8" fill="#000" fill-opacity="0.420" filter="url(#f2_2)"/>
<rect x="1074.0" y="342.2" width="46.0" height="9.6" rx="4.8" fill="#000" fill-opacity="0.397" filter="url(#f2_2)"/>
</g>
<g clip-path="url(#c60)">
<rect x="207.5" y="389.6" width="300.3" height="44.0" fill="rgb(196,196,196)"/>
<rect x="218.2" y="405.4" width="47.5" height="15.3" rx="7.7" fill="#000" fill-opacity="0.951" filter="url(#f2_5)"/>
<rect x="280.2" y="405.4" width="45.5" height="16.3" rx="8.0" fill="#000" fill-opacity="0.950" filter="url(#f2_5)"/>
<rect x="341.2" y="404.4" width="47.5" height="18.3" rx="8.0" fill="#000" fill-opacity="0.959" filter="url(#f2_5)"/>
<rect x="401.2" y="403.4" width="45.5" height="17.3" rx="8.0" fill="#000" fill-opacity="0.949" filter="url(#f2_5)"/>
<rect x="463.2" y="402.4" width="40.5" height="16.3" rx="8.0" fill="#000" fill-opacity="0.940" filter="url(#f2_5)"/>
</g>
<g clip-path="url(#c61)">
<rect x="515.5" y="389.6" width="305.0" height="44.0" fill="rgb(200,200,200)"/>
<rect x="526.2" y="412.4" width="47.5" height="13.3" rx="6.7" fill="#000" fill-opacity="0.947" filter="url(#f2_5)"/>
<rect x="587.2" y="409.4" width="43.5" height="13.3" rx="6.7" fill="#000" fill-opacity="0.947" filter="url(#f2_5)"/>
<rect x="644.2" y="405.4" width="46.5" height="14.3" rx="7.2" fill="#000" fill-opacity="0.944" filter="url(#f2_5)"/>
<rect x="706.2" y="400.4" width="44.5" height="16.3" rx="8.0" fill="#000" fill-opacity="0.951" filter="url(#f2_5)"/>
<rect x="764.2" y="397.4" width="46.5" height="14.3" rx="7.2" fill="#000" fill-opacity="0.954" filter="url(#f2_5)"/>
<rect x="517.2" y="390.4" width="301.5" height="4.3" rx="2.2" fill="#000" fill-opacity="0.287" filter="url(#f2_5)"/>
</g>
<g clip-path="url(#c62)">
<rect x="828.8" y="389.6" width="302.4" height="44.0" fill="rgb(194,194,194)"/>
<rect x="839.2" y="405.4" width="47.5" height="15.3" rx="7.7" fill="#000" fill-opacity="0.961" filter="url(#f2_5)"/>
<rect x="898.2" y="405.4" width="42.5" height="14.3" rx="7.2" fill="#000" fill-opacity="0.952" filter="url(#f2_5)"/>
<rect x="956.2" y="405.4" width="45.5" height="15.3" rx="7.7" fill="#000" fill-opacity="0.951" filter="url(#f2_5)"/>
<rect x="1013.2" y="403.4" width="48.5" height="18.3" rx="8.0" fill="#000" fill-opacity="0.959" filter="url(#f2_5)"/>
<rect x="1068.2" y="400.4" width="57.5" height="20.3" rx="8.0" fill="#000" fill-opacity="0.974" filter="url(#f2_5)"/>
</g>
<text x="75.5" y="511.7" font-size="40">b</text>
<text x="353.6" y="512.1" font-size="31.5" text-anchor="middle">HCT 116</text>
<text x="648.6" y="512.0" font-size="31.5" text-anchor="middle">HCT 116 IL6</text>
<text x="962.4" y="512.0" font-size="31.5" text-anchor="middle">HCT 116 IL8</text>
<text transform="translate(128.5,1098.3) rotate(-90)" x="0" y="0" font-size="30.4" text-anchor="middle">Relative protein band intensity</text>
<text transform="translate(1111.5,616) rotate(90)" x="0" y="0" font-size="30.6" text-anchor="middle">Clock</text>
<text transform="translate(1111.5,804.6) rotate(90)" x="0" y="0" font-size="30" text-anchor="middle">Bmal1</text>
<text transform="translate(1111.5,992.4) rotate(90)" x="0" y="0" font-size="30" text-anchor="middle">Per1</text>
<text transform="translate(1111.5,1180.7) rotate(90)" x="0" y="0" font-size="30" text-anchor="middle">Cry1</text>
<text transform="translate(1111.5,1373.8) rotate(90)" x="0" y="0" font-size="30.6" text-anchor="middle">TIM</text>
<text transform="translate(1111.5,1566.3) rotate(90)" x="0" y="0" font-size="31.1" text-anchor="middle">pERK1/2</text>
<rect x="203.2" y="526.3" width="289.5" height="182.0" fill="none" stroke="#000" stroke-width="2.0"/>
<line x1="198.2" y1="533" x2="203.2" y2="533" stroke="#000" stroke-width="2.4"/>
<line x1="198.2" y1="566" x2="203.2" y2="566" stroke="#000" stroke-width="2.4"/>
<line x1="198.2" y1="600.6" x2="203.2" y2="600.6" stroke="#000" stroke-width="2.4"/>
<line x1="198.2" y1="633.4" x2="203.2" y2="633.4" stroke="#000" stroke-width="2.4"/>
<line x1="198.2" y1="666" x2="203.2" y2="666" stroke="#000" stroke-width="2.4"/>
<line x1="198.2" y1="700.2" x2="203.2" y2="700.2" stroke="#000" stroke-width="2.4"/>
<line x1="225.2" y1="708.3" x2="225.2" y2="711.8" stroke="#000" stroke-width="2.2"/>
<line x1="285.6" y1="708.3" x2="285.6" y2="711.8" stroke="#000" stroke-width="2.2"/>
<line x1="347" y1="708.3" x2="347" y2="711.8" stroke="#000" stroke-width="2.2"/>
<line x1="407.4" y1="708.3" x2="407.4" y2="711.8" stroke="#000" stroke-width="2.2"/>
<line x1="468.5" y1="708.3" x2="468.5" y2="711.8" stroke="#000" stroke-width="2.2"/>
<polyline points="215.6,627.7 217.8,626.5 220.0,625.2 222.2,623.9 224.4,622.6 226.6,621.3 228.8,619.9 231.0,618.6 233.2,617.3 235.4,615.9 237.7,614.6 239.9,613.3 242.1,612.0 244.3,610.7 246.5,609.4 248.7,608.1 250.9,606.9 253.1,605.6 255.3,604.4 257.5,603.2 259.7,602.1 261.9,601.0 264.1,599.9 266.3,598.9 268.5,597.8 270.7,596.9 272.9,596.0 275.1,595.1 277.3,594.2 279.5,593.5 281.8,592.7 284.0,592.1 286.2,591.4 288.4,590.9 290.6,590.3 292.8,589.9 295.0,589.5 297.2,589.1 299.4,588.8 301.6,588.6 303.8,588.5 306.0,588.3 308.2,588.3 310.4,588.3 312.6,588.4 314.8,588.5 317.0,588.7 319.2,589.0 321.4,589.3 323.6,589.7 325.9,590.1 328.1,590.6 330.3,591.2 332.5,591.8 334.7,592.4 336.9,593.1 339.1,593.9 341.3,594.7 343.5,595.6 345.7,596.5 347.9,597.4 350.1,598.4 352.3,599.4 354.5,600.5 356.7,601.6 358.9,602.7 361.1,603.9 363.3,605.1 365.5,606.3 367.7,607.6 369.9,608.8 372.2,610.1 374.4,611.4 376.6,612.7 378.8,614.0 381.0,615.4 383.2,616.7 385.4,618.0 387.6,619.3 389.8,620.7 392.0,622.0 394.2,623.3 396.4,624.6 398.6,625.9 400.8,627.2 403.0,628.4 405.2,629.6 407.4,630.8 409.6,632.0 411.8,633.1 414.1,634.2 416.3,635.3 418.5,636.3 420.7,637.3 422.9,638.3 425.1,639.2 427.3,640.1 429.5,640.9 431.7,641.7 433.9,642.4 436.1,643.0 438.3,643.6 440.5,644.2 442.7,644.7 444.9,645.1 447.1,645.5 449.3,645.9 451.5,646.1 453.7,646.3 455.9,646.5 458.2,646.6 460.4,646.6 462.6,646.6 464.8,646.5 467.0,646.3 469.2,646.1 471.4,645.8 473.6,645.5 475.8,645.1 478.0,644.6 480.2,644.1" fill="none" stroke="#111" stroke-width="1.7"/>
<line x1="225.2" y1="586.1" x2="225.2" y2="627.5" stroke="#000" stroke-width="2.3"/>
<line x1="219.39999999999998" y1="586.1" x2="231.0" y2="586.1" stroke="#000" stroke-width="2.6"/>
<line x1="219.39999999999998" y1="627.5" x2="231.0" y2="627.5" stroke="#000" stroke-width="2.6"/>
<circle cx="225.2" cy="606.8" r="3.3" fill="#000"/>
<line x1="285.6" y1="592.6" x2="285.6" y2="599.6" stroke="#000" stroke-width="2.3"/>
<line x1="279.8" y1="592.6" x2="291.40000000000003" y2="592.6" stroke="#000" stroke-width="2.6"/>
<line x1="279.8" y1="599.6" x2="291.40000000000003" y2="599.6" stroke="#000" stroke-width="2.6"/>
<rect x="282.1" y="592.6" width="7" height="7.0" fill="#000"/>
<circle cx="285.6" cy="596.1" r="3.3" fill="#000"/>
<line x1="347" y1="593.7" x2="347" y2="604.3" stroke="#000" stroke-width="2.3"/>
<line x1="341.2" y1="593.7" x2="352.8" y2="593.7" stroke="#000" stroke-width="2.6"/>
<line x1="341.2" y1="604.3" x2="352.8" y2="604.3" stroke="#000" stroke-width="2.6"/>
<circle cx="347" cy="599" r="3.3" fill="#000"/>
<line x1="407.4" y1="619.0" x2="407.4" y2="623.0" stroke="#000" stroke-width="2.3"/>
<line x1="401.59999999999997" y1="619.0" x2="413.2" y2="619.0" stroke="#000" stroke-width="2.6"/>
<line x1="401.59999999999997" y1="623.0" x2="413.2" y2="623.0" stroke="#000" stroke-width="2.6"/>
<rect x="403.9" y="619.0" width="7" height="4.0" fill="#000"/>
<circle cx="407.4" cy="621" r="3.3" fill="#000"/>
<line x1="468.5" y1="659.6" x2="468.5" y2="662.0" stroke="#000" stroke-width="2.3"/>
<line x1="462.7" y1="659.6" x2="474.3" y2="659.6" stroke="#000" stroke-width="2.6"/>
<line x1="462.7" y1="662.0" x2="474.3" y2="662.0" stroke="#000" stroke-width="2.6"/>
<rect x="465.0" y="659.6" width="7" height="2.4" fill="#000"/>
<circle cx="468.5" cy="660.8" r="3.3" fill="#000"/>
<rect x="502.1" y="526.6" width="289.4" height="181.8" fill="none" stroke="#000" stroke-width="2.0"/>
<line x1="497.1" y1="533" x2="502.1" y2="533" stroke="#000" stroke-width="2.4"/>
<line x1="497.1" y1="566" x2="502.1" y2="566" stroke="#000" stroke-width="2.4"/>
<line x1="497.1" y1="600.6" x2="502.1" y2="600.6" stroke="#000" stroke-width="2.4"/>
<line x1="497.1" y1="633.4" x2="502.1" y2="633.4" stroke="#000" stroke-width="2.4"/>
<line x1="497.1" y1="666" x2="502.1" y2="666" stroke="#000" stroke-width="2.4"/>
<line x1="497.1" y1="700.2" x2="502.1" y2="700.2" stroke="#000" stroke-width="2.4"/>
<line x1="524.9" y1="708.4" x2="524.9" y2="711.9" stroke="#000" stroke-width="2.2"/>
<line x1="585" y1="708.4" x2="585" y2="711.9" stroke="#000" stroke-width="2.2"/>
<line x1="645.3" y1="708.4" x2="645.3" y2="711.9" stroke="#000" stroke-width="2.2"/>
<line x1="706.3" y1="708.4" x2="706.3" y2="711.9" stroke="#000" stroke-width="2.2"/>
<line x1="767.7" y1="708.4" x2="767.7" y2="711.9" stroke="#000" stroke-width="2.2"/>
<polyline points="515.7,562.7 517.9,562.3 520.1,561.8 522.3,561.4 524.5,561.0 526.7,560.6 528.9,560.3 531.0,560.0 533.2,559.8 535.4,559.5 537.6,559.3 539.8,559.2 542.0,559.1 544.2,559.0 546.4,558.9 548.6,558.9 550.8,558.9 553.0,559.0 555.2,559.1 557.4,559.2 559.6,559.4 561.7,559.5 563.9,559.8 566.1,560.0 568.3,560.3 570.5,560.7 572.7,561.0 574.9,561.4 577.1,561.9 579.3,562.3 581.5,562.8 583.7,563.3 585.9,563.8 588.1,564.4 590.2,565.0 592.4,565.6 594.6,566.2 596.8,566.9 599.0,567.6 601.2,568.2 603.4,569.0 605.6,569.7 607.8,570.4 610.0,571.2 612.2,571.9 614.4,572.7 616.6,573.5 618.7,574.2 620.9,575.0 623.1,575.8 625.3,576.6 627.5,577.4 629.7,578.2 631.9,578.9 634.1,579.7 636.3,580.5 638.5,581.2 640.7,582.0 642.9,582.7 645.1,583.4 647.2,584.1 649.4,584.8 651.6,585.5 653.8,586.2 656.0,586.8 658.2,587.4 660.4,588.0 662.6,588.6 664.8,589.1 667.0,589.6 669.2,590.1 671.4,590.5 673.6,591.0 675.8,591.4 677.9,591.7 680.1,592.1 682.3,592.4 684.5,592.6 686.7,592.8 688.9,593.0 691.1,593.2 693.3,593.3 695.5,593.4 697.7,593.5 699.9,593.5 702.1,593.5 704.3,593.4 706.4,593.3 708.6,593.2 710.8,593.1 713.0,592.9 715.2,592.6 717.4,592.4 719.6,592.1 721.8,591.8 724.0,591.4 726.2,591.0 728.4,590.6 730.6,590.1 732.8,589.7 735.0,589.2 737.1,588.6 739.3,588.1 741.5,587.5 743.7,586.9 745.9,586.2 748.1,585.6 750.3,584.9 752.5,584.2 754.7,583.5 756.9,582.8 759.1,582.1 761.3,581.3 763.5,580.6 765.6,579.8 767.8,579.0 770.0,578.2 772.2,577.5 774.4,576.7 776.6,575.9 778.8,575.1" fill="none" stroke="#111" stroke-width="1.7"/>
<line x1="524.9" y1="549.8" x2="524.9" y2="560.0" stroke="#000" stroke-width="2.3"/>
<line x1="519.1" y1="549.8" x2="530.6999999999999" y2="549.8" stroke="#000" stroke-width="2.6"/>
<line x1="519.1" y1="560.0" x2="530.6999999999999" y2="560.0" stroke="#000" stroke-width="2.6"/>
<circle cx="524.9" cy="554.9" r="3.3" fill="#000"/>
<line x1="585" y1="576.7" x2="585" y2="584.9" stroke="#000" stroke-width="2.3"/>
<line x1="579.2" y1="576.7" x2="590.8" y2="576.7" stroke="#000" stroke-width="2.6"/>
<line x1="579.2" y1="584.9" x2="590.8" y2="584.9" stroke="#000" stroke-width="2.6"/>
<rect x="581.5" y="576.7" width="7" height="8.2" fill="#000"/>
<circle cx="585" cy="580.8" r="3.3" fill="#000"/>
<line x1="645.3" y1="561.6" x2="645.3" y2="565.6" stroke="#000" stroke-width="2.3"/>
<line x1="639.5" y1="561.6" x2="651.0999999999999" y2="561.6" stroke="#000" stroke-width="2.6"/>
<line x1="639.5" y1="565.6" x2="651.0999999999999" y2="565.6" stroke="#000" stroke-width="2.6"/>
<rect x="641.8" y="561.6" width="7" height="4.0" fill="#000"/>
<circle cx="645.3" cy="563.6" r="3.3" fill="#000"/>
<line x1="706.3" y1="605.8" x2="706.3" y2="612.2" stroke="#000" stroke-width="2.3"/>
<line x1="700.5" y1="605.8" x2="712.0999999999999" y2="605.8" stroke="#000" stroke-width="2.6"/>
<line x1="700.5" y1="612.2" x2="712.0999999999999" y2="612.2" stroke="#000" stroke-width="2.6"/>
<rect x="702.8" y="605.8" width="7" height="6.4" fill="#000"/>
<circle cx="706.3" cy="609" r="3.3" fill="#000"/>
<line x1="767.7" y1="571.2" x2="767.7" y2="575.2" stroke="#000" stroke-width="2.3"/>
<line x1="761.9000000000001" y1="571.2" x2="773.5" y2="571.2" stroke="#000" stroke-width="2.6"/>
<line x1="761.9000000000001" y1="575.2" x2="773.5" y2="575.2" stroke="#000" stroke-width="2.6"/>
<rect x="764.2" y="571.2" width="7" height="4.0" fill="#000"/>
<circle cx="767.7" cy="573.2" r="3.3" fill="#000"/>
<rect x="801.1" y="526.3" width="289.1" height="182.0" fill="none" stroke="#000" stroke-width="2.0"/>
<line x1="796.1" y1="533" x2="801.1" y2="533" stroke="#000" stroke-width="2.4"/>
<line x1="796.1" y1="566" x2="801.1" y2="566" stroke="#000" stroke-width="2.4"/>
<line x1="796.1" y1="600.6" x2="801.1" y2="600.6" stroke="#000" stroke-width="2.4"/>
<line x1="796.1" y1="633.4" x2="801.1" y2="633.4" stroke="#000" stroke-width="2.4"/>
<line x1="796.1" y1="666" x2="801.1" y2="666" stroke="#000" stroke-width="2.4"/>
<line x1="796.1" y1="700.2" x2="801.1" y2="700.2" stroke="#000" stroke-width="2.4"/>
<line x1="824" y1="708.3" x2="824" y2="711.8" stroke="#000" stroke-width="2.2"/>
<line x1="884.15" y1="708.3" x2="884.15" y2="711.8" stroke="#000" stroke-width="2.2"/>
<line x1="944.3" y1="708.3" x2="944.3" y2="711.8" stroke="#000" stroke-width="2.2"/>
<line x1="1004.5" y1="708.3" x2="1004.5" y2="711.8" stroke="#000" stroke-width="2.2"/>
<line x1="1066.1" y1="708.3" x2="1066.1" y2="711.8" stroke="#000" stroke-width="2.2"/>
<polyline points="813.7,574.1 815.9,572.9 818.1,571.7 820.3,570.5 822.5,569.3 824.7,568.1 826.9,566.9 829.1,565.8 831.3,564.6 833.5,563.4 835.7,562.2 837.9,561.1 840.1,560.0 842.2,558.9 844.4,557.8 846.6,556.7 848.8,555.7 851.0,554.7 853.2,553.7 855.4,552.8 857.6,551.9 859.8,551.0 862.0,550.2 864.2,549.4 866.4,548.7 868.6,548.0 870.8,547.3 873.0,546.7 875.2,546.2 877.4,545.6 879.6,545.2 881.8,544.8 884.0,544.4 886.2,544.1 888.4,543.9 890.6,543.7 892.8,543.5 894.9,543.4 897.1,543.4 899.3,543.4 901.5,543.5 903.7,543.6 905.9,543.8 908.1,544.0 910.3,544.3 912.5,544.7 914.7,545.1 916.9,545.5 919.1,546.0 921.3,546.6 923.5,547.2 925.7,547.8 927.9,548.5 930.1,549.2 932.3,550.0 934.5,550.8 936.7,551.7 938.9,552.6 941.1,553.5 943.3,554.5 945.5,555.5 947.6,556.5 949.8,557.5 952.0,558.6 954.2,559.7 956.4,560.8 958.6,562.0 960.8,563.1 963.0,564.3 965.2,565.5 967.4,566.7 969.6,567.9 971.8,569.1 974.0,570.3 976.2,571.5 978.4,572.7 980.6,573.9 982.8,575.0 985.0,576.2 987.2,577.4 989.4,578.5 991.6,579.6 993.8,580.7 996.0,581.8 998.2,582.9 1000.3,583.9 1002.5,584.9 1004.7,585.9 1006.9,586.8 1009.1,587.7 1011.3,588.6 1013.5,589.4 1015.7,590.2 1017.9,590.9 1020.1,591.6 1022.3,592.3 1024.5,592.9 1026.7,593.5 1028.9,594.0 1031.1,594.4 1033.3,594.8 1035.5,595.2 1037.7,595.5 1039.9,595.7 1042.1,595.9 1044.3,596.1 1046.5,596.2 1048.7,596.2 1050.9,596.2 1053.0,596.1 1055.2,596.0 1057.4,595.8 1059.6,595.5 1061.8,595.3 1064.0,594.9 1066.2,594.5 1068.4,594.1 1070.6,593.6 1072.8,593.0 1075.0,592.4 1077.2,591.8" fill="none" stroke="#111" stroke-width="1.7"/>
<line x1="824" y1="557.0" x2="824" y2="565.0" stroke="#000" stroke-width="2.3"/>
<line x1="818.2" y1="557.0" x2="829.8" y2="557.0" stroke="#000" stroke-width="2.6"/>
<line x1="818.2" y1="565.0" x2="829.8" y2="565.0" stroke="#000" stroke-width="2.6"/>
<rect x="820.5" y="557.0" width="7" height="8.0" fill="#000"/>
<circle cx="824" cy="561" r="3.3" fill="#000"/>
<line x1="944.3" y1="555.4" x2="944.3" y2="569.4" stroke="#000" stroke-width="2.3"/>
<line x1="938.5" y1="555.4" x2="950.0999999999999" y2="555.4" stroke="#000" stroke-width="2.6"/>
<line x1="938.5" y1="569.4" x2="950.0999999999999" y2="569.4" stroke="#000" stroke-width="2.6"/>
<circle cx="944.3" cy="562.4" r="3.3" fill="#000"/>
<line x1="1004.5" y1="571.6" x2="1004.5" y2="579.6" stroke="#000" stroke-width="2.3"/>
<line x1="998.7" y1="571.6" x2="1010.3" y2="571.6" stroke="#000" stroke-width="2.6"/>
<line x1="998.7" y1="579.6" x2="1010.3" y2="579.6" stroke="#000" stroke-width="2.6"/>
<rect x="1001.0" y="571.6" width="7" height="8.0" fill="#000"/>
<circle cx="1004.5" cy="575.6" r="3.3" fill="#000"/>
<line x1="1066.1" y1="600.5" x2="1066.1" y2="606.5" stroke="#000" stroke-width="2.3"/>
<line x1="1060.3" y1="600.5" x2="1071.8999999999999" y2="600.5" stroke="#000" stroke-width="2.6"/>
<line x1="1060.3" y1="606.5" x2="1071.8999999999999" y2="606.5" stroke="#000" stroke-width="2.6"/>
<rect x="1062.6" y="600.5" width="7" height="6.0" fill="#000"/>
<circle cx="1066.1" cy="603.5" r="3.3" fill="#000"/>
<rect x="204.2" y="715.6" width="288.8" height="182.7" fill="none" stroke="#000" stroke-width="2.0"/>
<line x1="199.2" y1="724.1" x2="204.2" y2="724.1" stroke="#000" stroke-width="2.4"/>
<line x1="199.2" y1="766" x2="204.2" y2="766" stroke="#000" stroke-width="2.4"/>
<line x1="199.2" y1="806.3" x2="204.2" y2="806.3" stroke="#000" stroke-width="2.4"/>
<line x1="199.2" y1="848.4" x2="204.2" y2="848.4" stroke="#000" stroke-width="2.4"/>
<line x1="199.2" y1="889.1" x2="204.2" y2="889.1" stroke="#000" stroke-width="2.4"/>
<line x1="224.6" y1="898.3" x2="224.6" y2="901.8" stroke="#000" stroke-width="2.2"/>
<line x1="285.2" y1="898.3" x2="285.2" y2="901.8" stroke="#000" stroke-width="2.2"/>
<line x1="346.2" y1="898.3" x2="346.2" y2="901.8" stroke="#000" stroke-width="2.2"/>
<line x1="407.3" y1="898.3" x2="407.3" y2="901.8" stroke="#000" stroke-width="2.2"/>
<line x1="468.8" y1="898.3" x2="468.8" y2="901.8" stroke="#000" stroke-width="2.2"/>
<polyline points="216.7,804.3 218.9,803.5 221.1,802.7 223.3,801.7 225.5,800.6 227.7,799.3 229.9,797.9 232.1,796.5 234.3,794.9 236.4,793.3 238.6,791.6 240.8,789.8 243.0,787.9 245.2,786.0 247.4,784.1 249.6,782.1 251.8,780.2 254.0,778.2 256.2,776.2 258.4,774.3 260.6,772.3 262.8,770.5 265.0,768.6 267.2,766.9 269.4,765.2 271.6,763.6 273.7,762.1 275.9,760.6 278.1,759.3 280.3,758.1 282.5,757.1 284.7,756.1 286.9,755.3 289.1,754.6 291.3,754.1 293.5,753.7 295.7,753.5 297.9,753.4 300.1,753.5 302.3,753.7 304.5,754.0 306.7,754.5 308.9,755.2 311.0,756.0 313.2,756.9 315.4,757.9 317.6,759.1 319.8,760.4 322.0,761.8 324.2,763.3 326.4,764.9 328.6,766.5 330.8,768.3 333.0,770.1 335.2,772.0 337.4,773.9 339.6,775.8 341.8,777.8 344.0,779.8 346.2,781.7 348.4,783.7 350.5,785.6 352.7,787.5 354.9,789.4 357.1,791.2 359.3,792.9 361.5,794.6 363.7,796.2 365.9,797.7 368.1,799.0 370.3,800.3 372.5,801.5 374.7,802.5 376.9,803.4 379.1,804.1 381.3,804.8 383.5,805.2 385.7,805.6 387.8,805.8 390.0,805.8 392.2,805.7 394.4,805.4 396.6,805.0 398.8,804.5 401.0,803.8 403.2,802.9 405.4,802.0 407.6,800.9 409.8,799.6 412.0,798.3 414.2,796.9 416.4,795.4 418.6,793.7 420.8,792.0 423.0,790.3 425.1,788.4 427.3,786.5 429.5,784.6 431.7,782.7 433.9,780.7 436.1,778.7 438.3,776.7 440.5,774.8 442.7,772.9 444.9,771.0 447.1,769.1 449.3,767.3 451.5,765.6 453.7,764.0 455.9,762.5 458.1,761.0 460.3,759.7 462.4,758.4 464.6,757.3 466.8,756.4 469.0,755.5 471.2,754.8 473.4,754.2 475.6,753.8 477.8,753.5 480.0,753.4" fill="none" stroke="#111" stroke-width="1.7"/>
<line x1="224.6" y1="804.2" x2="224.6" y2="808.2" stroke="#000" stroke-width="2.3"/>
<line x1="218.79999999999998" y1="804.2" x2="230.4" y2="804.2" stroke="#000" stroke-width="2.6"/>
<line x1="218.79999999999998" y1="808.2" x2="230.4" y2="808.2" stroke="#000" stroke-width="2.6"/>
<rect x="221.1" y="804.2" width="7" height="4.0" fill="#000"/>
<circle cx="224.6" cy="806.2" r="3.3" fill="#000"/>
<line x1="285.2" y1="764.5" x2="285.2" y2="770.5" stroke="#000" stroke-width="2.3"/>
<line x1="279.4" y1="764.5" x2="291.0" y2="764.5" stroke="#000" stroke-width="2.6"/>
<line x1="279.4" y1="770.5" x2="291.0" y2="770.5" stroke="#000" stroke-width="2.6"/>
<rect x="281.7" y="764.5" width="7" height="6.0" fill="#000"/>
<circle cx="285.2" cy="767.5" r="3.3" fill="#000"/>
<line x1="346.2" y1="778.4" x2="346.2" y2="782.4" stroke="#000" stroke-width="2.3"/>
<line x1="340.4" y1="778.4" x2="352.0" y2="778.4" stroke="#000" stroke-width="2.6"/>
<line x1="340.4" y1="782.4" x2="352.0" y2="782.4" stroke="#000" stroke-width="2.6"/>
<rect x="342.7" y="778.4" width="7" height="4.0" fill="#000"/>
<circle cx="346.2" cy="780.4" r="3.3" fill="#000"/>
<line x1="407.3" y1="794.2" x2="407.3" y2="797.2" stroke="#000" stroke-width="2.3"/>
<line x1="401.5" y1="794.2" x2="413.1" y2="794.2" stroke="#000" stroke-width="2.6"/>
<line x1="401.5" y1="797.2" x2="413.1" y2="797.2" stroke="#000" stroke-width="2.6"/>
<rect x="403.8" y="794.2" width="7" height="3.0" fill="#000"/>
<circle cx="407.3" cy="795.7" r="3.3" fill="#000"/>
<line x1="468.8" y1="740.4" x2="468.8" y2="746.8" stroke="#000" stroke-width="2.3"/>
<line x1="463.0" y1="740.4" x2="474.6" y2="740.4" stroke="#000" stroke-width="2.6"/>
<line x1="463.0" y1="746.8" x2="474.6" y2="746.8" stroke="#000" stroke-width="2.6"/>
<rect x="465.3" y="740.4" width="7" height="6.4" fill="#000"/>
<circle cx="468.8" cy="743.6" r="3.3" fill="#000"/>
<rect x="504" y="717" width="287.7" height="180.2" fill="none" stroke="#000" stroke-width="2.0"/>
<line x1="499.0" y1="724.1" x2="504" y2="724.1" stroke="#000" stroke-width="2.4"/>
<line x1="499.0" y1="766" x2="504" y2="766" stroke="#000" stroke-width="2.4"/>
<line x1="499.0" y1="806.3" x2="504" y2="806.3" stroke="#000" stroke-width="2.4"/>
<line x1="499.0" y1="848.4" x2="504" y2="848.4" stroke="#000" stroke-width="2.4"/>
<line x1="499.0" y1="889.1" x2="504" y2="889.1" stroke="#000" stroke-width="2.4"/>
<line x1="526.3" y1="897.2" x2="526.3" y2="900.7" stroke="#000" stroke-width="2.2"/>
<line x1="556.8" y1="897.2" x2="556.8" y2="900.7" stroke="#000" stroke-width="2.2"/>
<line x1="587.3" y1="897.2" x2="587.3" y2="900.7" stroke="#000" stroke-width="2.2"/>
<line x1="647.6" y1="897.2" x2="647.6" y2="900.7" stroke="#000" stroke-width="2.2"/>
<line x1="708.1" y1="897.2" x2="708.1" y2="900.7" stroke="#000" stroke-width="2.2"/>
<polyline points="517.8,745.0 520.0,746.3 522.2,747.7 524.4,749.1 526.6,750.6 528.7,752.1 530.9,753.6 533.1,755.1 535.3,756.7 537.5,758.3 539.7,759.8 541.9,761.4 544.1,763.0 546.2,764.7 548.4,766.3 550.6,767.9 552.8,769.5 555.0,771.0 557.2,772.6 559.4,774.2 561.6,775.7 563.8,777.2 565.9,778.7 568.1,780.2 570.3,781.6 572.5,783.0 574.7,784.4 576.9,785.7 579.1,787.0 581.3,788.2 583.4,789.4 585.6,790.5 587.8,791.6 590.0,792.6 592.2,793.6 594.4,794.5 596.6,795.3 598.8,796.1 601.0,796.8 603.1,797.5 605.3,798.1 607.5,798.6 609.7,799.0 611.9,799.4 614.1,799.7 616.3,799.9 618.5,800.1 620.7,800.2 622.8,800.2 625.0,800.1 627.2,800.0 629.4,799.8 631.6,799.5 633.8,799.2 636.0,798.8 638.2,798.3 640.3,797.7 642.5,797.1 644.7,796.4 646.9,795.7 649.1,794.8 651.3,794.0 653.5,793.0 655.7,792.0 657.9,791.0 660.0,789.8 662.2,788.7 664.4,787.5 666.6,786.2 668.8,784.9 671.0,783.6 673.2,782.2 675.4,780.8 677.5,779.3 679.7,777.9 681.9,776.3 684.1,774.8 686.3,773.3 688.5,771.7 690.7,770.1 692.9,768.5 695.1,766.9 697.2,765.3 699.4,763.7 701.6,762.1 703.8,760.5 706.0,758.9 708.2,757.3 710.4,755.8 712.6,754.2 714.8,752.7 716.9,751.2 719.1,749.7 721.3,748.3 723.5,746.9 725.7,745.5 727.9,744.2 730.1,742.9 732.3,741.7 734.4,740.5 736.6,739.4 738.8,738.3 741.0,737.2 743.2,736.2 745.4,735.3 747.6,734.5 749.8,733.7 752.0,732.9 754.1,732.3 756.3,731.7 758.5,731.1 760.7,730.7 762.9,730.3 765.1,730.0 767.3,729.7 769.5,729.5 771.6,729.4 773.8,729.4 776.0,729.4 778.2,729.6 780.4,729.7" fill="none" stroke="#111" stroke-width="1.7"/>
<line x1="526.3" y1="760.1" x2="526.3" y2="762.5" stroke="#000" stroke-width="2.3"/>
<line x1="520.5" y1="760.1" x2="532.0999999999999" y2="760.1" stroke="#000" stroke-width="2.6"/>
<line x1="520.5" y1="762.5" x2="532.0999999999999" y2="762.5" stroke="#000" stroke-width="2.6"/>
<rect x="522.8" y="760.1" width="7" height="2.4" fill="#000"/>
<circle cx="526.3" cy="761.3" r="3.3" fill="#000"/>
<line x1="587.3" y1="771.1" x2="587.3" y2="775.1" stroke="#000" stroke-width="2.3"/>
<line x1="581.5" y1="771.1" x2="593.0999999999999" y2="771.1" stroke="#000" stroke-width="2.6"/>
<line x1="581.5" y1="775.1" x2="593.0999999999999" y2="775.1" stroke="#000" stroke-width="2.6"/>
<rect x="583.8" y="771.1" width="7" height="4.0" fill="#000"/>
<circle cx="587.3" cy="773.1" r="3.3" fill="#000"/>
<line x1="647.6" y1="808.7" x2="647.6" y2="814.7" stroke="#000" stroke-width="2.3"/>
<line x1="641.8000000000001" y1="808.7" x2="653.4" y2="808.7" stroke="#000" stroke-width="2.6"/>
<line x1="641.8000000000001" y1="814.7" x2="653.4" y2="814.7" stroke="#000" stroke-width="2.6"/>
<rect x="644.1" y="808.7" width="7" height="6.0" fill="#000"/>
<circle cx="647.6" cy="811.7" r="3.3" fill="#000"/>
<line x1="708.1" y1="742.3" x2="708.1" y2="749.3" stroke="#000" stroke-width="2.3"/>
<line x1="702.3000000000001" y1="742.3" x2="713.9" y2="742.3" stroke="#000" stroke-width="2.6"/>
<line x1="702.3000000000001" y1="749.3" x2="713.9" y2="749.3" stroke="#000" stroke-width="2.6"/>
<rect x="704.6" y="742.3" width="7" height="7.0" fill="#000"/>
<circle cx="708.1" cy="745.8" r="3.3" fill="#000"/>
<rect x="804" y="717" width="287.3" height="180.2" fill="none" stroke="#000" stroke-width="2.0"/>
<line x1="799.0" y1="724.1" x2="804" y2="724.1" stroke="#000" stroke-width="2.4"/>
<line x1="799.0" y1="766" x2="804" y2="766" stroke="#000" stroke-width="2.4"/>
<line x1="799.0" y1="806.3" x2="804" y2="806.3" stroke="#000" stroke-width="2.4"/>
<line x1="799.0" y1="848.4" x2="804" y2="848.4" stroke="#000" stroke-width="2.4"/>
<line x1="799.0" y1="889.1" x2="804" y2="889.1" stroke="#000" stroke-width="2.4"/>
<line x1="824.9" y1="897.2" x2="824.9" y2="900.7" stroke="#000" stroke-width="2.2"/>
<line x1="885.7" y1="897.2" x2="885.7" y2="900.7" stroke="#000" stroke-width="2.2"/>
<line x1="945.7" y1="897.2" x2="945.7" y2="900.7" stroke="#000" stroke-width="2.2"/>
<line x1="1006.3" y1="897.2" x2="1006.3" y2="900.7" stroke="#000" stroke-width="2.2"/>
<line x1="1067" y1="897.2" x2="1067" y2="900.7" stroke="#000" stroke-width="2.2"/>
<polyline points="815.7,866.3 817.9,867.9 820.1,869.5 822.3,871.0 824.5,872.5 826.6,873.8 828.8,875.1 831.0,876.3 833.2,877.4 835.4,878.4 837.6,879.3 839.8,880.1 842.0,880.8 844.1,881.5 846.3,882.0 848.5,882.4 850.7,882.7 852.9,883.0 855.1,883.1 857.3,883.1 859.5,883.0 861.7,882.8 863.8,882.5 866.0,882.2 868.2,881.7 870.4,881.1 872.6,880.4 874.8,879.6 877.0,878.7 879.2,877.8 881.4,876.7 883.5,875.5 885.7,874.3 887.9,873.0 890.1,871.6 892.3,870.1 894.5,868.5 896.7,866.9 898.9,865.2 901.0,863.4 903.2,861.6 905.4,859.7 907.6,857.8 909.8,855.8 912.0,853.8 914.2,851.7 916.4,849.6 918.6,847.4 920.7,845.3 922.9,843.0 925.1,840.8 927.3,838.6 929.5,836.3 931.7,834.1 933.9,831.8 936.1,829.6 938.2,827.3 940.4,825.1 942.6,822.9 944.8,820.7 947.0,818.5 949.2,816.4 951.4,814.3 953.6,812.2 955.8,810.2 957.9,808.2 960.1,806.3 962.3,804.5 964.5,802.7 966.7,800.9 968.9,799.2 971.1,797.6 973.3,796.1 975.4,794.7 977.6,793.3 979.8,792.0 982.0,790.8 984.2,789.7 986.4,788.7 988.6,787.7 990.8,786.9 993.0,786.1 995.1,785.5 997.3,784.9 999.5,784.5 1001.7,784.1 1003.9,783.9 1006.1,783.7 1008.3,783.7 1010.5,783.8 1012.6,783.9 1014.8,784.2 1017.0,784.5 1019.2,785.0 1021.4,785.6 1023.6,786.2 1025.8,787.0 1028.0,787.9 1030.2,788.8 1032.3,789.9 1034.5,791.0 1036.7,792.2 1038.9,793.5 1041.1,794.9 1043.3,796.4 1045.5,797.9 1047.7,799.5 1049.9,801.2 1052.0,802.9 1054.2,804.8 1056.4,806.6 1058.6,808.6 1060.8,810.5 1063.0,812.6 1065.2,814.6 1067.4,816.7 1069.5,818.9 1071.7,821.0 1073.9,823.2 1076.1,825.5 1078.3,827.7" fill="none" stroke="#111" stroke-width="1.7"/>
<line x1="824.9" y1="877.7" x2="824.9" y2="880.1" stroke="#000" stroke-width="2.3"/>
<line x1="819.1" y1="877.7" x2="830.6999999999999" y2="877.7" stroke="#000" stroke-width="2.6"/>
<line x1="819.1" y1="880.1" x2="830.6999999999999" y2="880.1" stroke="#000" stroke-width="2.6"/>
<rect x="821.4" y="877.7" width="7" height="2.4" fill="#000"/>
<circle cx="824.9" cy="878.9" r="3.3" fill="#000"/>
<line x1="885.7" y1="858.4" x2="885.7" y2="860.8" stroke="#000" stroke-width="2.3"/>
<line x1="879.9000000000001" y1="858.4" x2="891.5" y2="858.4" stroke="#000" stroke-width="2.6"/>
<line x1="879.9000000000001" y1="860.8" x2="891.5" y2="860.8" stroke="#000" stroke-width="2.6"/>
<rect x="882.2" y="858.4" width="7" height="2.4" fill="#000"/>
<circle cx="885.7" cy="859.6" r="3.3" fill="#000"/>
<line x1="945.7" y1="830.1" x2="945.7" y2="832.5" stroke="#000" stroke-width="2.3"/>
<line x1="939.9000000000001" y1="830.1" x2="951.5" y2="830.1" stroke="#000" stroke-width="2.6"/>
<line x1="939.9000000000001" y1="832.5" x2="951.5" y2="832.5" stroke="#000" stroke-width="2.6"/>
<rect x="942.2" y="830.1" width="7" height="2.4" fill="#000"/>
<circle cx="945.7" cy="831.3" r="3.3" fill="#000"/>
<line x1="1006.3" y1="767.3" x2="1006.3" y2="776.5" stroke="#000" stroke-width="2.3"/>
<line x1="1000.5" y1="767.3" x2="1012.0999999999999" y2="767.3" stroke="#000" stroke-width="2.6"/>
<line x1="1000.5" y1="776.5" x2="1012.0999999999999" y2="776.5" stroke="#000" stroke-width="2.6"/>
<circle cx="1006.3" cy="771.9" r="3.3" fill="#000"/>
<line x1="1067" y1="818.0" x2="1067" y2="821.0" stroke="#000" stroke-width="2.3"/>
<line x1="1061.2" y1="818.0" x2="1072.8" y2="818.0" stroke="#000" stroke-width="2.6"/>
<line x1="1061.2" y1="821.0" x2="1072.8" y2="821.0" stroke="#000" stroke-width="2.6"/>
<rect x="1063.5" y="818.0" width="7" height="3.0" fill="#000"/>
<circle cx="1067" cy="819.5" r="3.3" fill="#000"/>
<rect x="201.2" y="905.2" width="291.8" height="181.4" fill="none" stroke="#000" stroke-width="2.0"/>
<line x1="196.2" y1="913.5" x2="201.2" y2="913.5" stroke="#000" stroke-width="2.4"/>
<line x1="196.2" y1="964.6" x2="201.2" y2="964.6" stroke="#000" stroke-width="2.4"/>
<line x1="196.2" y1="1015.5" x2="201.2" y2="1015.5" stroke="#000" stroke-width="2.4"/>
<line x1="196.2" y1="1067.4" x2="201.2" y2="1067.4" stroke="#000" stroke-width="2.4"/>
<line x1="224.6" y1="1086.6" x2="224.6" y2="1090.1" stroke="#000" stroke-width="2.2"/>
<line x1="285.2" y1="1086.6" x2="285.2" y2="1090.1" stroke="#000" stroke-width="2.2"/>
<line x1="345.5" y1="1086.6" x2="345.5" y2="1090.1" stroke="#000" stroke-width="2.2"/>
<line x1="406.6" y1="1086.6" x2="406.6" y2="1090.1" stroke="#000" stroke-width="2.2"/>
<line x1="468.3" y1="1086.6" x2="468.3" y2="1090.1" stroke="#000" stroke-width="2.2"/>
<polyline points="215.2,1026.8 217.4,1027.1 219.6,1027.4 221.8,1027.9 224.0,1028.4 226.2,1029.0 228.4,1029.6 230.6,1030.4 232.7,1031.1 234.9,1032.0 237.1,1032.9 239.3,1033.8 241.5,1034.8 243.7,1035.8 245.9,1036.9 248.1,1038.0 250.3,1039.2 252.5,1040.3 254.7,1041.5 256.9,1042.7 259.1,1043.9 261.3,1045.1 263.5,1046.4 265.6,1047.6 267.8,1048.8 270.0,1050.0 272.2,1051.2 274.4,1052.3 276.6,1053.5 278.8,1054.5 281.0,1055.6 283.2,1056.6 285.4,1057.6 287.6,1058.5 289.8,1059.4 292.0,1060.2 294.2,1061.0 296.4,1061.7 298.5,1062.3 300.7,1062.9 302.9,1063.4 305.1,1063.8 307.3,1064.2 309.5,1064.4 311.7,1064.6 313.9,1064.8 316.1,1064.8 318.3,1064.8 320.5,1064.7 322.7,1064.5 324.9,1064.2 327.1,1063.9 329.3,1063.5 331.4,1063.0 333.6,1062.4 335.8,1061.8 338.0,1061.1 340.2,1060.4 342.4,1059.6 344.6,1058.7 346.8,1057.8 349.0,1056.8 351.2,1055.8 353.4,1054.7 355.6,1053.7 357.8,1052.5 360.0,1051.4 362.2,1050.2 364.3,1049.0 366.5,1047.8 368.7,1046.6 370.9,1045.4 373.1,1044.1 375.3,1042.9 377.5,1041.7 379.7,1040.5 381.9,1039.4 384.1,1038.2 386.3,1037.1 388.5,1036.0 390.7,1035.0 392.9,1034.0 395.1,1033.0 397.2,1032.1 399.4,1031.3 401.6,1030.5 403.8,1029.8 406.0,1029.1 408.2,1028.5 410.4,1028.0 412.6,1027.5 414.8,1027.1 417.0,1026.8 419.2,1026.6 421.4,1026.4 423.6,1026.3 425.8,1026.3 428.0,1026.4 430.1,1026.5 432.3,1026.7 434.5,1027.0 436.7,1027.4 438.9,1027.9 441.1,1028.4 443.3,1029.0 445.5,1029.6 447.7,1030.3 449.9,1031.1 452.1,1031.9 454.3,1032.8 456.5,1033.8 458.7,1034.8 460.9,1035.8 463.0,1036.9 465.2,1038.0 467.4,1039.1 469.6,1040.3 471.8,1041.5 474.0,1042.7 476.2,1043.9 478.4,1045.1" fill="none" stroke="#111" stroke-width="1.7"/>
<line x1="224.6" y1="1022.8" x2="224.6" y2="1032.2" stroke="#000" stroke-width="2.3"/>
<line x1="218.79999999999998" y1="1022.8" x2="230.4" y2="1022.8" stroke="#000" stroke-width="2.6"/>
<line x1="218.79999999999998" y1="1032.2" x2="230.4" y2="1032.2" stroke="#000" stroke-width="2.6"/>
<circle cx="224.6" cy="1027.5" r="3.3" fill="#000"/>
<line x1="285.2" y1="1056.8" x2="285.2" y2="1059.2" stroke="#000" stroke-width="2.3"/>
<line x1="279.4" y1="1056.8" x2="291.0" y2="1056.8" stroke="#000" stroke-width="2.6"/>
<line x1="279.4" y1="1059.2" x2="291.0" y2="1059.2" stroke="#000" stroke-width="2.6"/>
<rect x="281.7" y="1056.8" width="7" height="2.4" fill="#000"/>
<circle cx="285.2" cy="1058" r="3.3" fill="#000"/>
<line x1="345.5" y1="1055.6" x2="345.5" y2="1058.0" stroke="#000" stroke-width="2.3"/>
<line x1="339.7" y1="1055.6" x2="351.3" y2="1055.6" stroke="#000" stroke-width="2.6"/>
<line x1="339.7" y1="1058.0" x2="351.3" y2="1058.0" stroke="#000" stroke-width="2.6"/>
<rect x="342.0" y="1055.6" width="7" height="2.4" fill="#000"/>
<circle cx="345.5" cy="1056.8" r="3.3" fill="#000"/>
<line x1="406.6" y1="1029.1" x2="406.6" y2="1031.5" stroke="#000" stroke-width="2.3"/>
<line x1="400.8" y1="1029.1" x2="412.40000000000003" y2="1029.1" stroke="#000" stroke-width="2.6"/>
<line x1="400.8" y1="1031.5" x2="412.40000000000003" y2="1031.5" stroke="#000" stroke-width="2.6"/>
<rect x="403.1" y="1029.1" width="7" height="2.4" fill="#000"/>
<circle cx="406.6" cy="1030.3" r="3.3" fill="#000"/>
<line x1="468.3" y1="1038.5" x2="468.3" y2="1040.9" stroke="#000" stroke-width="2.3"/>
<line x1="462.5" y1="1038.5" x2="474.1" y2="1038.5" stroke="#000" stroke-width="2.6"/>
<line x1="462.5" y1="1040.9" x2="474.1" y2="1040.9" stroke="#000" stroke-width="2.6"/>
<rect x="464.8" y="1038.5" width="7" height="2.4" fill="#000"/>
<circle cx="468.3" cy="1039.7" r="3.3" fill="#000"/>
<rect x="503.7" y="904.7" width="289.9" height="182.1" fill="none" stroke="#000" stroke-width="2.0"/>
<line x1="498.7" y1="913.5" x2="503.7" y2="913.5" stroke="#000" stroke-width="2.4"/>
<line x1="498.7" y1="964.6" x2="503.7" y2="964.6" stroke="#000" stroke-width="2.4"/>
<line x1="498.7" y1="1015.5" x2="503.7" y2="1015.5" stroke="#000" stroke-width="2.4"/>
<line x1="498.7" y1="1067.4" x2="503.7" y2="1067.4" stroke="#000" stroke-width="2.4"/>
<line x1="526.8" y1="1086.8" x2="526.8" y2="1090.3" stroke="#000" stroke-width="2.2"/>
<line x1="587.3" y1="1086.8" x2="587.3" y2="1090.3" stroke="#000" stroke-width="2.2"/>
<line x1="648.1" y1="1086.8" x2="648.1" y2="1090.3" stroke="#000" stroke-width="2.2"/>
<line x1="708.6" y1="1086.8" x2="708.6" y2="1090.3" stroke="#000" stroke-width="2.2"/>
<line x1="768.9" y1="1086.8" x2="768.9" y2="1090.3" stroke="#000" stroke-width="2.2"/>
<polyline points="516.7,999.6 518.9,1001.8 521.1,1004.0 523.3,1006.3 525.4,1008.5 527.6,1010.8 529.8,1013.1 532.0,1015.4 534.2,1017.7 536.4,1020.1 538.5,1022.4 540.7,1024.6 542.9,1026.9 545.1,1029.2 547.3,1031.4 549.5,1033.6 551.6,1035.8 553.8,1037.9 556.0,1040.0 558.2,1042.1 560.4,1044.1 562.6,1046.0 564.8,1047.9 566.9,1049.7 569.1,1051.5 571.3,1053.1 573.5,1054.8 575.7,1056.3 577.9,1057.7 580.0,1059.1 582.2,1060.4 584.4,1061.6 586.6,1062.7 588.8,1063.7 591.0,1064.6 593.1,1065.5 595.3,1066.2 597.5,1066.8 599.7,1067.3 601.9,1067.7 604.1,1068.1 606.3,1068.3 608.4,1068.4 610.6,1068.4 612.8,1068.3 615.0,1068.1 617.2,1067.8 619.4,1067.4 621.5,1066.8 623.7,1066.2 625.9,1065.5 628.1,1064.7 630.3,1063.8 632.5,1062.8 634.6,1061.7 636.8,1060.5 639.0,1059.2 641.2,1057.8 643.4,1056.4 645.6,1054.9 647.8,1053.3 649.9,1051.6 652.1,1049.8 654.3,1048.0 656.5,1046.1 658.7,1044.2 660.9,1042.2 663.0,1040.2 665.2,1038.1 667.4,1035.9 669.6,1033.8 671.8,1031.6 674.0,1029.3 676.1,1027.1 678.3,1024.8 680.5,1022.5 682.7,1020.2 684.9,1017.9 687.1,1015.6 689.2,1013.3 691.4,1011.0 693.6,1008.7 695.8,1006.4 698.0,1004.2 700.2,1002.0 702.4,999.8 704.5,997.6 706.7,995.5 708.9,993.5 711.1,991.5 713.3,989.5 715.5,987.6 717.6,985.7 719.8,984.0 722.0,982.3 724.2,980.6 726.4,979.1 728.6,977.6 730.7,976.2 732.9,974.9 735.1,973.6 737.3,972.5 739.5,971.4 741.7,970.5 743.9,969.6 746.0,968.9 748.2,968.2 750.4,967.6 752.6,967.2 754.8,966.8 757.0,966.6 759.1,966.4 761.3,966.4 763.5,966.5 765.7,966.6 767.9,966.9 770.1,967.3 772.2,967.8 774.4,968.3 776.6,969.0 778.8,969.8" fill="none" stroke="#111" stroke-width="1.7"/>
<line x1="526.8" y1="1031.1" x2="526.8" y2="1034.1" stroke="#000" stroke-width="2.3"/>
<line x1="521.0" y1="1031.1" x2="532.5999999999999" y2="1031.1" stroke="#000" stroke-width="2.6"/>
<line x1="521.0" y1="1034.1" x2="532.5999999999999" y2="1034.1" stroke="#000" stroke-width="2.6"/>
<rect x="523.3" y="1031.1" width="7" height="3.0" fill="#000"/>
<circle cx="526.8" cy="1032.6" r="3.3" fill="#000"/>
<line x1="587.3" y1="1047.9" x2="587.3" y2="1050.3" stroke="#000" stroke-width="2.3"/>
<line x1="581.5" y1="1047.9" x2="593.0999999999999" y2="1047.9" stroke="#000" stroke-width="2.6"/>
<line x1="581.5" y1="1050.3" x2="593.0999999999999" y2="1050.3" stroke="#000" stroke-width="2.6"/>
<rect x="583.8" y="1047.9" width="7" height="2.4" fill="#000"/>
<circle cx="587.3" cy="1049.1" r="3.3" fill="#000"/>
<line x1="648.1" y1="1046.8" x2="648.1" y2="1053.8" stroke="#000" stroke-width="2.3"/>
<line x1="642.3000000000001" y1="1046.8" x2="653.9" y2="1046.8" stroke="#000" stroke-width="2.6"/>
<line x1="642.3000000000001" y1="1053.8" x2="653.9" y2="1053.8" stroke="#000" stroke-width="2.6"/>
<rect x="644.6" y="1046.8" width="7" height="7.0" fill="#000"/>
<circle cx="648.1" cy="1050.3" r="3.3" fill="#000"/>
<line x1="708.6" y1="1004.7" x2="708.6" y2="1015.7" stroke="#000" stroke-width="2.3"/>
<line x1="702.8000000000001" y1="1004.7" x2="714.4" y2="1004.7" stroke="#000" stroke-width="2.6"/>
<line x1="702.8000000000001" y1="1015.7" x2="714.4" y2="1015.7" stroke="#000" stroke-width="2.6"/>
<circle cx="708.6" cy="1010.2" r="3.3" fill="#000"/>
<line x1="768.9" y1="933.0" x2="768.9" y2="947.0" stroke="#000" stroke-width="2.3"/>
<line x1="763.1" y1="933.0" x2="774.6999999999999" y2="933.0" stroke="#000" stroke-width="2.6"/>
<line x1="763.1" y1="947.0" x2="774.6999999999999" y2="947.0" stroke="#000" stroke-width="2.6"/>
<circle cx="768.9" cy="940" r="3.3" fill="#000"/>
<rect x="804" y="904.7" width="288.9" height="182.1" fill="none" stroke="#000" stroke-width="2.0"/>
<line x1="799.0" y1="913.5" x2="804" y2="913.5" stroke="#000" stroke-width="2.4"/>
<line x1="799.0" y1="964.6" x2="804" y2="964.6" stroke="#000" stroke-width="2.4"/>
<line x1="799.0" y1="1015.5" x2="804" y2="1015.5" stroke="#000" stroke-width="2.4"/>
<line x1="799.0" y1="1067.4" x2="804" y2="1067.4" stroke="#000" stroke-width="2.4"/>
<line x1="825.6" y1="1086.8" x2="825.6" y2="1090.3" stroke="#000" stroke-width="2.2"/>
<line x1="886.9" y1="1086.8" x2="886.9" y2="1090.3" stroke="#000" stroke-width="2.2"/>
<line x1="946.4" y1="1086.8" x2="946.4" y2="1090.3" stroke="#000" stroke-width="2.2"/>
<line x1="1006.5" y1="1086.8" x2="1006.5" y2="1090.3" stroke="#000" stroke-width="2.2"/>
<line x1="1068.2" y1="1086.8" x2="1068.2" y2="1090.3" stroke="#000" stroke-width="2.2"/>
<polyline points="816.7,1025.7 818.9,1023.6 821.1,1021.6 823.3,1019.6 825.5,1017.7 827.7,1015.8 829.9,1014.0 832.1,1012.3 834.3,1010.7 836.4,1009.1 838.6,1007.7 840.8,1006.4 843.0,1005.2 845.2,1004.2 847.4,1003.2 849.6,1002.5 851.8,1001.8 854.0,1001.3 856.2,1001.0 858.4,1000.8 860.6,1000.8 862.8,1000.9 865.0,1001.2 867.2,1001.7 869.4,1002.3 871.6,1003.0 873.7,1003.9 875.9,1004.9 878.1,1006.1 880.3,1007.3 882.5,1008.7 884.7,1010.2 886.9,1011.8 889.1,1013.5 891.3,1015.3 893.5,1017.2 895.7,1019.1 897.9,1021.1 900.1,1023.1 902.3,1025.1 904.5,1027.2 906.7,1029.2 908.9,1031.3 911.0,1033.3 913.2,1035.3 915.4,1037.3 917.6,1039.2 919.8,1041.0 922.0,1042.8 924.2,1044.5 926.4,1046.1 928.6,1047.6 930.8,1049.0 933.0,1050.2 935.2,1051.4 937.4,1052.4 939.6,1053.3 941.8,1054.0 944.0,1054.6 946.2,1055.0 948.4,1055.3 950.5,1055.4 952.7,1055.4 954.9,1055.2 957.1,1054.8 959.3,1054.3 961.5,1053.7 963.7,1052.9 965.9,1052.0 968.1,1050.9 970.3,1049.7 972.5,1048.4 974.7,1046.9 976.9,1045.4 979.1,1043.8 981.3,1042.0 983.5,1040.2 985.7,1038.3 987.8,1036.4 990.0,1034.4 992.2,1032.4 994.4,1030.3 996.6,1028.3 998.8,1026.2 1001.0,1024.2 1003.2,1022.2 1005.4,1020.2 1007.6,1018.2 1009.8,1016.3 1012.0,1014.5 1014.2,1012.8 1016.4,1011.1 1018.6,1009.5 1020.8,1008.1 1023.0,1006.7 1025.1,1005.5 1027.3,1004.4 1029.5,1003.5 1031.7,1002.7 1033.9,1002.0 1036.1,1001.5 1038.3,1001.1 1040.5,1000.9 1042.7,1000.8 1044.9,1000.9 1047.1,1001.1 1049.3,1001.5 1051.5,1002.1 1053.7,1002.8 1055.9,1003.6 1058.1,1004.6 1060.3,1005.7 1062.4,1007.0 1064.6,1008.3 1066.8,1009.8 1069.0,1011.4 1071.2,1013.1 1073.4,1014.8 1075.6,1016.7 1077.8,1018.6 1080.0,1020.5" fill="none" stroke="#111" stroke-width="1.7"/>
<line x1="825.6" y1="1025.7" x2="825.6" y2="1028.7" stroke="#000" stroke-width="2.3"/>
<line x1="819.8000000000001" y1="1025.7" x2="831.4" y2="1025.7" stroke="#000" stroke-width="2.6"/>
<line x1="819.8000000000001" y1="1028.7" x2="831.4" y2="1028.7" stroke="#000" stroke-width="2.6"/>
<rect x="822.1" y="1025.7" width="7" height="3.0" fill="#000"/>
<circle cx="825.6" cy="1027.2" r="3.3" fill="#000"/>
<line x1="886.9" y1="998.6" x2="886.9" y2="1002.6" stroke="#000" stroke-width="2.3"/>
<line x1="881.1" y1="998.6" x2="892.6999999999999" y2="998.6" stroke="#000" stroke-width="2.6"/>
<line x1="881.1" y1="1002.6" x2="892.6999999999999" y2="1002.6" stroke="#000" stroke-width="2.6"/>
<rect x="883.4" y="998.6" width="7" height="4.0" fill="#000"/>
<circle cx="886.9" cy="1000.6" r="3.3" fill="#000"/>
<line x1="946.4" y1="1053.2" x2="946.4" y2="1056.2" stroke="#000" stroke-width="2.3"/>
<line x1="940.6" y1="1053.2" x2="952.1999999999999" y2="1053.2" stroke="#000" stroke-width="2.6"/>
<line x1="940.6" y1="1056.2" x2="952.1999999999999" y2="1056.2" stroke="#000" stroke-width="2.6"/>
<rect x="942.9" y="1053.2" width="7" height="3.0" fill="#000"/>
<circle cx="946.4" cy="1054.7" r="3.3" fill="#000"/>
<line x1="1006.5" y1="1004.0" x2="1006.5" y2="1008.0" stroke="#000" stroke-width="2.3"/>
<line x1="1000.7" y1="1004.0" x2="1012.3" y2="1004.0" stroke="#000" stroke-width="2.6"/>
<line x1="1000.7" y1="1008.0" x2="1012.3" y2="1008.0" stroke="#000" stroke-width="2.6"/>
<rect x="1003.0" y="1004.0" width="7" height="4.0" fill="#000"/>
<circle cx="1006.5" cy="1006" r="3.3" fill="#000"/>
<line x1="1068.2" y1="1021.0" x2="1068.2" y2="1024.0" stroke="#000" stroke-width="2.3"/>
<line x1="1062.4" y1="1021.0" x2="1074.0" y2="1021.0" stroke="#000" stroke-width="2.6"/>
<line x1="1062.4" y1="1024.0" x2="1074.0" y2="1024.0" stroke="#000" stroke-width="2.6"/>
<rect x="1064.7" y="1021.0" width="7" height="3.0" fill="#000"/>
<circle cx="1068.2" cy="1022.5" r="3.3" fill="#000"/>
<rect x="201.2" y="1094.2" width="290.1" height="182.4" fill="none" stroke="#000" stroke-width="2.0"/>
<line x1="196.2" y1="1123" x2="201.2" y2="1123" stroke="#000" stroke-width="2.4"/>
<line x1="196.2" y1="1171" x2="201.2" y2="1171" stroke="#000" stroke-width="2.4"/>
<line x1="196.2" y1="1220" x2="201.2" y2="1220" stroke="#000" stroke-width="2.4"/>
<line x1="196.2" y1="1269.2" x2="201.2" y2="1269.2" stroke="#000" stroke-width="2.4"/>
<line x1="223.7" y1="1276.6" x2="223.7" y2="1280.1" stroke="#000" stroke-width="2.2"/>
<line x1="284" y1="1276.6" x2="284" y2="1280.1" stroke="#000" stroke-width="2.2"/>
<line x1="345.1" y1="1276.6" x2="345.1" y2="1280.1" stroke="#000" stroke-width="2.2"/>
<line x1="405.4" y1="1276.6" x2="405.4" y2="1280.1" stroke="#000" stroke-width="2.2"/>
<line x1="467.6" y1="1276.6" x2="467.6" y2="1280.1" stroke="#000" stroke-width="2.2"/>
<polyline points="214.8,1229.2 217.0,1228.4 219.2,1227.6 221.4,1226.6 223.6,1225.6 225.8,1224.4 228.0,1223.2 230.2,1221.9 232.4,1220.5 234.6,1219.1 236.8,1217.5 239.0,1215.9 241.2,1214.3 243.4,1212.6 245.6,1210.9 247.8,1209.1 249.9,1207.3 252.1,1205.5 254.3,1203.6 256.5,1201.8 258.7,1200.0 260.9,1198.1 263.1,1196.3 265.3,1194.5 267.5,1192.8 269.7,1191.1 271.9,1189.4 274.1,1187.8 276.3,1186.2 278.5,1184.7 280.7,1183.2 282.9,1181.9 285.1,1180.6 287.3,1179.4 289.5,1178.3 291.7,1177.3 293.9,1176.3 296.1,1175.5 298.3,1174.8 300.5,1174.2 302.7,1173.7 304.9,1173.4 307.1,1173.1 309.3,1172.9 311.5,1172.9 313.6,1173.0 315.8,1173.2 318.0,1173.5 320.2,1173.9 322.4,1174.5 324.6,1175.1 326.8,1175.9 329.0,1176.7 331.2,1177.7 333.4,1178.7 335.6,1179.9 337.8,1181.1 340.0,1182.4 342.2,1183.8 344.4,1185.3 346.6,1186.8 348.8,1188.4 351.0,1190.1 353.2,1191.8 355.4,1193.5 357.6,1195.3 359.8,1197.1 362.0,1198.9 364.2,1200.7 366.4,1202.6 368.6,1204.4 370.8,1206.2 373.0,1208.0 375.2,1209.8 377.4,1211.6 379.5,1213.3 381.7,1215.0 383.9,1216.6 386.1,1218.2 388.3,1219.7 390.5,1221.1 392.7,1222.5 394.9,1223.7 397.1,1224.9 399.3,1226.0 401.5,1227.0 403.7,1227.9 405.9,1228.7 408.1,1229.4 410.3,1230.0 412.5,1230.5 414.7,1230.9 416.9,1231.1 419.1,1231.3 421.3,1231.3 423.5,1231.2 425.7,1231.0 427.9,1230.7 430.1,1230.2 432.3,1229.7 434.5,1229.0 436.7,1228.3 438.9,1227.4 441.1,1226.4 443.3,1225.4 445.4,1224.2 447.6,1223.0 449.8,1221.6 452.0,1220.2 454.2,1218.8 456.4,1217.2 458.6,1215.6 460.8,1214.0 463.0,1212.3 465.2,1210.5 467.4,1208.7 469.6,1206.9 471.8,1205.1 474.0,1203.3 476.2,1201.5 478.4,1199.6" fill="none" stroke="#111" stroke-width="1.7"/>
<line x1="223.7" y1="1217.6" x2="223.7" y2="1220.6" stroke="#000" stroke-width="2.3"/>
<line x1="217.89999999999998" y1="1217.6" x2="229.5" y2="1217.6" stroke="#000" stroke-width="2.6"/>
<line x1="217.89999999999998" y1="1220.6" x2="229.5" y2="1220.6" stroke="#000" stroke-width="2.6"/>
<rect x="220.2" y="1217.6" width="7" height="3.0" fill="#000"/>
<circle cx="223.7" cy="1219.1" r="3.3" fill="#000"/>
<line x1="284" y1="1180.9" x2="284" y2="1186.9" stroke="#000" stroke-width="2.3"/>
<line x1="278.2" y1="1180.9" x2="289.8" y2="1180.9" stroke="#000" stroke-width="2.6"/>
<line x1="278.2" y1="1186.9" x2="289.8" y2="1186.9" stroke="#000" stroke-width="2.6"/>
<rect x="280.5" y="1180.9" width="7" height="6.0" fill="#000"/>
<circle cx="284" cy="1183.9" r="3.3" fill="#000"/>
<line x1="345.1" y1="1179.7" x2="345.1" y2="1186.7" stroke="#000" stroke-width="2.3"/>
<line x1="339.3" y1="1179.7" x2="350.90000000000003" y2="1179.7" stroke="#000" stroke-width="2.6"/>
<line x1="339.3" y1="1186.7" x2="350.90000000000003" y2="1186.7" stroke="#000" stroke-width="2.6"/>
<rect x="341.6" y="1179.7" width="7" height="7.0" fill="#000"/>
<circle cx="345.1" cy="1183.2" r="3.3" fill="#000"/>
<line x1="405.4" y1="1231.7" x2="405.4" y2="1235.7" stroke="#000" stroke-width="2.3"/>
<line x1="399.59999999999997" y1="1231.7" x2="411.2" y2="1231.7" stroke="#000" stroke-width="2.6"/>
<line x1="399.59999999999997" y1="1235.7" x2="411.2" y2="1235.7" stroke="#000" stroke-width="2.6"/>
<rect x="401.9" y="1231.7" width="7" height="4.0" fill="#000"/>
<circle cx="405.4" cy="1233.7" r="3.3" fill="#000"/>
<line x1="467.6" y1="1202.4" x2="467.6" y2="1212.4" stroke="#000" stroke-width="2.3"/>
<line x1="461.8" y1="1202.4" x2="473.40000000000003" y2="1202.4" stroke="#000" stroke-width="2.6"/>
<line x1="461.8" y1="1212.4" x2="473.40000000000003" y2="1212.4" stroke="#000" stroke-width="2.6"/>
<circle cx="467.6" cy="1207.4" r="3.3" fill="#000"/>
<rect x="504.4" y="1096.4" width="289.2" height="182.0" fill="none" stroke="#000" stroke-width="2.0"/>
<line x1="499.4" y1="1123" x2="504.4" y2="1123" stroke="#000" stroke-width="2.4"/>
<line x1="499.4" y1="1171" x2="504.4" y2="1171" stroke="#000" stroke-width="2.4"/>
<line x1="499.4" y1="1220" x2="504.4" y2="1220" stroke="#000" stroke-width="2.4"/>
<line x1="499.4" y1="1269.2" x2="504.4" y2="1269.2" stroke="#000" stroke-width="2.4"/>
<line x1="528.7" y1="1278.4" x2="528.7" y2="1281.9" stroke="#000" stroke-width="2.2"/>
<line x1="588.7" y1="1278.4" x2="588.7" y2="1281.9" stroke="#000" stroke-width="2.2"/>
<line x1="649.3" y1="1278.4" x2="649.3" y2="1281.9" stroke="#000" stroke-width="2.2"/>
<line x1="709.8" y1="1278.4" x2="709.8" y2="1281.9" stroke="#000" stroke-width="2.2"/>
<line x1="770.5" y1="1278.4" x2="770.5" y2="1281.9" stroke="#000" stroke-width="2.2"/>
<polyline points="517.8,1188.6 520.0,1187.4 522.2,1186.1 524.4,1184.8 526.6,1183.4 528.8,1182.0 531.0,1180.5 533.2,1179.1 535.4,1177.6 537.6,1176.0 539.8,1174.5 541.9,1173.0 544.1,1171.6 546.3,1170.1 548.5,1168.7 550.7,1167.3 552.9,1166.0 555.1,1164.7 557.3,1163.5 559.5,1162.3 561.7,1161.3 563.9,1160.3 566.1,1159.4 568.3,1158.6 570.5,1157.9 572.7,1157.3 574.9,1156.8 577.1,1156.5 579.3,1156.2 581.5,1156.0 583.6,1156.0 585.8,1156.1 588.0,1156.3 590.2,1156.6 592.4,1157.0 594.6,1157.5 596.8,1158.1 599.0,1158.9 601.2,1159.7 603.4,1160.6 605.6,1161.6 607.8,1162.7 610.0,1163.9 612.2,1165.1 614.4,1166.4 616.6,1167.7 618.8,1169.1 621.0,1170.6 623.2,1172.0 625.4,1173.5 627.5,1175.0 629.7,1176.5 631.9,1178.0 634.1,1179.5 636.3,1181.0 638.5,1182.5 640.7,1183.9 642.9,1185.2 645.1,1186.5 647.3,1187.8 649.5,1189.0 651.7,1190.1 653.9,1191.1 656.1,1192.1 658.3,1192.9 660.5,1193.7 662.7,1194.3 664.9,1194.9 667.1,1195.3 669.3,1195.7 671.5,1195.9 673.6,1196.0 675.8,1196.0 678.0,1195.9 680.2,1195.6 682.4,1195.3 684.6,1194.8 686.8,1194.3 689.0,1193.6 691.2,1192.8 693.4,1192.0 695.6,1191.0 697.8,1190.0 700.0,1188.9 702.2,1187.7 704.4,1186.4 706.6,1185.1 708.8,1183.7 711.0,1182.3 713.2,1180.9 715.4,1179.4 717.5,1177.9 719.7,1176.4 721.9,1174.9 724.1,1173.4 726.3,1171.9 728.5,1170.4 730.7,1169.0 732.9,1167.6 735.1,1166.3 737.3,1165.0 739.5,1163.7 741.7,1162.6 743.9,1161.5 746.1,1160.5 748.3,1159.6 750.5,1158.8 752.7,1158.1 754.9,1157.4 757.1,1156.9 759.2,1156.5 761.4,1156.2 763.6,1156.1 765.8,1156.0 768.0,1156.0 770.2,1156.2 772.4,1156.5 774.6,1156.9 776.8,1157.4 779.0,1158.0 781.2,1158.7" fill="none" stroke="#111" stroke-width="1.7"/>
<line x1="528.7" y1="1202.7" x2="528.7" y2="1206.7" stroke="#000" stroke-width="2.3"/>
<line x1="522.9000000000001" y1="1202.7" x2="534.5" y2="1202.7" stroke="#000" stroke-width="2.6"/>
<line x1="522.9000000000001" y1="1206.7" x2="534.5" y2="1206.7" stroke="#000" stroke-width="2.6"/>
<rect x="525.2" y="1202.7" width="7" height="4.0" fill="#000"/>
<circle cx="528.7" cy="1204.7" r="3.3" fill="#000"/>
<line x1="588.7" y1="1154.0" x2="588.7" y2="1162.6" stroke="#000" stroke-width="2.3"/>
<line x1="582.9000000000001" y1="1154.0" x2="594.5" y2="1154.0" stroke="#000" stroke-width="2.6"/>
<line x1="582.9000000000001" y1="1162.6" x2="594.5" y2="1162.6" stroke="#000" stroke-width="2.6"/>
<rect x="585.2" y="1154.0" width="7" height="8.6" fill="#000"/>
<circle cx="588.7" cy="1158.3" r="3.3" fill="#000"/>
<line x1="649.3" y1="1184.5" x2="649.3" y2="1189.5" stroke="#000" stroke-width="2.3"/>
<line x1="643.5" y1="1184.5" x2="655.0999999999999" y2="1184.5" stroke="#000" stroke-width="2.6"/>
<line x1="643.5" y1="1189.5" x2="655.0999999999999" y2="1189.5" stroke="#000" stroke-width="2.6"/>
<rect x="645.8" y="1184.5" width="7" height="5.0" fill="#000"/>
<circle cx="649.3" cy="1187" r="3.3" fill="#000"/>
<line x1="709.8" y1="1158.2" x2="709.8" y2="1162.2" stroke="#000" stroke-width="2.3"/>
<line x1="704.0" y1="1158.2" x2="715.5999999999999" y2="1158.2" stroke="#000" stroke-width="2.6"/>
<line x1="704.0" y1="1162.2" x2="715.5999999999999" y2="1162.2" stroke="#000" stroke-width="2.6"/>
<rect x="706.3" y="1158.2" width="7" height="4.0" fill="#000"/>
<circle cx="709.8" cy="1160.2" r="3.3" fill="#000"/>
<line x1="770.5" y1="1153.3" x2="770.5" y2="1156.3" stroke="#000" stroke-width="2.3"/>
<line x1="764.7" y1="1153.3" x2="776.3" y2="1153.3" stroke="#000" stroke-width="2.6"/>
<line x1="764.7" y1="1156.3" x2="776.3" y2="1156.3" stroke="#000" stroke-width="2.6"/>
<rect x="767.0" y="1153.3" width="7" height="3.0" fill="#000"/>
<circle cx="770.5" cy="1154.8" r="3.3" fill="#000"/>
<rect x="804" y="1097.1" width="287.3" height="182.0" fill="none" stroke="#000" stroke-width="2.0"/>
<line x1="799.0" y1="1123" x2="804" y2="1123" stroke="#000" stroke-width="2.4"/>
<line x1="799.0" y1="1171" x2="804" y2="1171" stroke="#000" stroke-width="2.4"/>
<line x1="799.0" y1="1220" x2="804" y2="1220" stroke="#000" stroke-width="2.4"/>
<line x1="799.0" y1="1269.2" x2="804" y2="1269.2" stroke="#000" stroke-width="2.4"/>
<line x1="826.1" y1="1279.1" x2="826.1" y2="1282.6" stroke="#000" stroke-width="2.2"/>
<line x1="886.9" y1="1279.1" x2="886.9" y2="1282.6" stroke="#000" stroke-width="2.2"/>
<line x1="946.2" y1="1279.1" x2="946.2" y2="1282.6" stroke="#000" stroke-width="2.2"/>
<line x1="1006.3" y1="1279.1" x2="1006.3" y2="1282.6" stroke="#000" stroke-width="2.2"/>
<line x1="1068.2" y1="1279.1" x2="1068.2" y2="1282.6" stroke="#000" stroke-width="2.2"/>
<polyline points="816.7,1169.2 818.9,1167.4 821.1,1165.6 823.3,1163.8 825.5,1162.0 827.7,1160.1 829.9,1158.2 832.1,1156.3 834.3,1154.4 836.4,1152.4 838.6,1150.5 840.8,1148.5 843.0,1146.6 845.2,1144.7 847.4,1142.8 849.6,1140.9 851.8,1139.0 854.0,1137.1 856.2,1135.3 858.4,1133.5 860.6,1131.7 862.8,1130.0 865.0,1128.3 867.2,1126.7 869.4,1125.1 871.6,1123.6 873.7,1122.1 875.9,1120.7 878.1,1119.3 880.3,1118.0 882.5,1116.8 884.7,1115.6 886.9,1114.5 889.1,1113.5 891.3,1112.6 893.5,1111.7 895.7,1110.9 897.9,1110.2 900.1,1109.6 902.3,1109.1 904.5,1108.6 906.7,1108.3 908.9,1108.0 911.0,1107.8 913.2,1107.7 915.4,1107.7 917.6,1107.8 919.8,1107.9 922.0,1108.2 924.2,1108.5 926.4,1109.0 928.6,1109.5 930.8,1110.1 933.0,1110.8 935.2,1111.5 937.4,1112.4 939.6,1113.3 941.8,1114.3 944.0,1115.4 946.2,1116.5 948.4,1117.7 950.5,1119.0 952.7,1120.3 954.9,1121.8 957.1,1123.2 959.3,1124.7 961.5,1126.3 963.7,1127.9 965.9,1129.6 968.1,1131.3 970.3,1133.1 972.5,1134.9 974.7,1136.7 976.9,1138.6 979.1,1140.4 981.3,1142.3 983.5,1144.2 985.7,1146.2 987.8,1148.1 990.0,1150.0 992.2,1152.0 994.4,1153.9 996.6,1155.8 998.8,1157.7 1001.0,1159.6 1003.2,1161.5 1005.4,1163.4 1007.6,1165.2 1009.8,1167.0 1012.0,1168.8 1014.2,1170.5 1016.4,1172.2 1018.6,1173.8 1020.8,1175.4 1023.0,1177.0 1025.1,1178.4 1027.3,1179.9 1029.5,1181.2 1031.7,1182.5 1033.9,1183.8 1036.1,1184.9 1038.3,1186.0 1040.5,1187.0 1042.7,1188.0 1044.9,1188.8 1047.1,1189.6 1049.3,1190.3 1051.5,1191.0 1053.7,1191.5 1055.9,1191.9 1058.1,1192.3 1060.3,1192.6 1062.4,1192.8 1064.6,1192.9 1066.8,1192.9 1069.0,1192.8 1071.2,1192.7 1073.4,1192.4 1075.6,1192.1 1077.8,1191.7 1080.0,1191.1" fill="none" stroke="#111" stroke-width="1.7"/>
<line x1="826.1" y1="1159.8" x2="826.1" y2="1163.8" stroke="#000" stroke-width="2.3"/>
<line x1="820.3000000000001" y1="1159.8" x2="831.9" y2="1159.8" stroke="#000" stroke-width="2.6"/>
<line x1="820.3000000000001" y1="1163.8" x2="831.9" y2="1163.8" stroke="#000" stroke-width="2.6"/>
<rect x="822.6" y="1159.8" width="7" height="4.0" fill="#000"/>
<circle cx="826.1" cy="1161.8" r="3.3" fill="#000"/>
<line x1="886.9" y1="1107.0" x2="886.9" y2="1113.0" stroke="#000" stroke-width="2.3"/>
<line x1="881.1" y1="1107.0" x2="892.6999999999999" y2="1107.0" stroke="#000" stroke-width="2.6"/>
<line x1="881.1" y1="1113.0" x2="892.6999999999999" y2="1113.0" stroke="#000" stroke-width="2.6"/>
<rect x="883.4" y="1107.0" width="7" height="6.0" fill="#000"/>
<circle cx="886.9" cy="1110" r="3.3" fill="#000"/>
<line x1="946.2" y1="1118.6" x2="946.2" y2="1129.6" stroke="#000" stroke-width="2.3"/>
<line x1="940.4000000000001" y1="1118.6" x2="952.0" y2="1118.6" stroke="#000" stroke-width="2.6"/>
<line x1="940.4000000000001" y1="1129.6" x2="952.0" y2="1129.6" stroke="#000" stroke-width="2.6"/>
<circle cx="946.2" cy="1124.1" r="3.3" fill="#000"/>
<line x1="1006.3" y1="1156.8" x2="1006.3" y2="1160.8" stroke="#000" stroke-width="2.3"/>
<line x1="1000.5" y1="1156.8" x2="1012.0999999999999" y2="1156.8" stroke="#000" stroke-width="2.6"/>
<line x1="1000.5" y1="1160.8" x2="1012.0999999999999" y2="1160.8" stroke="#000" stroke-width="2.6"/>
<rect x="1002.8" y="1156.8" width="7" height="4.0" fill="#000"/>
<circle cx="1006.3" cy="1158.8" r="3.3" fill="#000"/>
<line x1="1068.2" y1="1194.0" x2="1068.2" y2="1199.0" stroke="#000" stroke-width="2.3"/>
<line x1="1062.4" y1="1194.0" x2="1074.0" y2="1194.0" stroke="#000" stroke-width="2.6"/>
<line x1="1062.4" y1="1199.0" x2="1074.0" y2="1199.0" stroke="#000" stroke-width="2.6"/>
<rect x="1064.7" y="1194.0" width="7" height="5.0" fill="#000"/>
<circle cx="1068.2" cy="1196.5" r="3.3" fill="#000"/>
<rect x="202.6" y="1285.9" width="288.7" height="179.5" fill="none" stroke="#000" stroke-width="2.0"/>
<line x1="197.6" y1="1293.5" x2="202.6" y2="1293.5" stroke="#000" stroke-width="2.4"/>
<line x1="197.6" y1="1347.2" x2="202.6" y2="1347.2" stroke="#000" stroke-width="2.4"/>
<line x1="197.6" y1="1399.5" x2="202.6" y2="1399.5" stroke="#000" stroke-width="2.4"/>
<line x1="197.6" y1="1452.1" x2="202.6" y2="1452.1" stroke="#000" stroke-width="2.4"/>
<line x1="213.6" y1="1465.4" x2="213.6" y2="1468.9" stroke="#000" stroke-width="2.2"/>
<line x1="276.3" y1="1465.4" x2="276.3" y2="1468.9" stroke="#000" stroke-width="2.2"/>
<line x1="339.9" y1="1465.4" x2="339.9" y2="1468.9" stroke="#000" stroke-width="2.2"/>
<line x1="402.6" y1="1465.4" x2="402.6" y2="1468.9" stroke="#000" stroke-width="2.2"/>
<line x1="467.6" y1="1465.4" x2="467.6" y2="1468.9" stroke="#000" stroke-width="2.2"/>
<polyline points="214.3,1420.1 216.5,1418.9 218.7,1417.6 220.9,1416.1 223.2,1414.4 225.4,1412.7 227.6,1410.8 229.8,1408.8 232.0,1406.8 234.2,1404.6 236.4,1402.4 238.7,1400.2 240.9,1397.9 243.1,1395.5 245.3,1393.2 247.5,1390.8 249.7,1388.5 251.9,1386.2 254.2,1383.9 256.4,1381.7 258.6,1379.6 260.8,1377.5 263.0,1375.5 265.2,1373.6 267.4,1371.9 269.7,1370.2 271.9,1368.7 274.1,1367.3 276.3,1366.1 278.5,1365.0 280.7,1364.1 282.9,1363.4 285.2,1362.8 287.4,1362.5 289.6,1362.2 291.8,1362.2 294.0,1362.4 296.2,1362.7 298.4,1363.2 300.7,1363.8 302.9,1364.7 305.1,1365.7 307.3,1366.9 309.5,1368.2 311.7,1369.6 313.9,1371.2 316.2,1373.0 318.4,1374.8 320.6,1376.7 322.8,1378.8 325.0,1380.9 327.2,1383.1 329.4,1385.3 331.7,1387.6 333.9,1390.0 336.1,1392.3 338.3,1394.7 340.5,1397.0 342.7,1399.3 344.9,1401.6 347.1,1403.8 349.4,1406.0 351.6,1408.1 353.8,1410.1 356.0,1412.0 358.2,1413.8 360.4,1415.5 362.6,1417.0 364.9,1418.4 367.1,1419.7 369.3,1420.8 371.5,1421.7 373.7,1422.5 375.9,1423.1 378.1,1423.6 380.4,1423.8 382.6,1423.9 384.8,1423.8 387.0,1423.5 389.2,1423.1 391.4,1422.4 393.6,1421.6 395.9,1420.7 398.1,1419.6 400.3,1418.3 402.5,1416.8 404.7,1415.3 406.9,1413.6 409.1,1411.8 411.4,1409.9 413.6,1407.9 415.8,1405.7 418.0,1403.6 420.2,1401.3 422.4,1399.1 424.6,1396.7 426.9,1394.4 429.1,1392.0 431.3,1389.7 433.5,1387.4 435.7,1385.1 437.9,1382.8 440.1,1380.7 442.4,1378.5 444.6,1376.5 446.8,1374.6 449.0,1372.8 451.2,1371.0 453.4,1369.5 455.6,1368.0 457.9,1366.7 460.1,1365.6 462.3,1364.6 464.5,1363.8 466.7,1363.1 468.9,1362.6 471.1,1362.3 473.4,1362.2 475.6,1362.3 477.8,1362.5 480.0,1362.9" fill="none" stroke="#111" stroke-width="1.7"/>
<line x1="223.7" y1="1410.6" x2="223.7" y2="1414.6" stroke="#000" stroke-width="2.3"/>
<line x1="217.89999999999998" y1="1410.6" x2="229.5" y2="1410.6" stroke="#000" stroke-width="2.6"/>
<line x1="217.89999999999998" y1="1414.6" x2="229.5" y2="1414.6" stroke="#000" stroke-width="2.6"/>
<rect x="220.2" y="1410.6" width="7" height="4.0" fill="#000"/>
<circle cx="223.7" cy="1412.6" r="3.3" fill="#000"/>
<line x1="284.7" y1="1384.3" x2="284.7" y2="1389.3" stroke="#000" stroke-width="2.3"/>
<line x1="278.9" y1="1384.3" x2="290.5" y2="1384.3" stroke="#000" stroke-width="2.6"/>
<line x1="278.9" y1="1389.3" x2="290.5" y2="1389.3" stroke="#000" stroke-width="2.6"/>
<rect x="281.2" y="1384.3" width="7" height="5.0" fill="#000"/>
<circle cx="284.7" cy="1386.8" r="3.3" fill="#000"/>
<line x1="345.5" y1="1400.3" x2="345.5" y2="1405.3" stroke="#000" stroke-width="2.3"/>
<line x1="339.7" y1="1400.3" x2="351.3" y2="1400.3" stroke="#000" stroke-width="2.6"/>
<line x1="339.7" y1="1405.3" x2="351.3" y2="1405.3" stroke="#000" stroke-width="2.6"/>
<rect x="342.0" y="1400.3" width="7" height="5.0" fill="#000"/>
<circle cx="345.5" cy="1402.8" r="3.3" fill="#000"/>
<line x1="406.6" y1="1411.1" x2="406.6" y2="1415.1" stroke="#000" stroke-width="2.3"/>
<line x1="400.8" y1="1411.1" x2="412.40000000000003" y2="1411.1" stroke="#000" stroke-width="2.6"/>
<line x1="400.8" y1="1415.1" x2="412.40000000000003" y2="1415.1" stroke="#000" stroke-width="2.6"/>
<rect x="403.1" y="1411.1" width="7" height="4.0" fill="#000"/>
<circle cx="406.6" cy="1413.1" r="3.3" fill="#000"/>
<line x1="467.6" y1="1334.3" x2="467.6" y2="1339.3" stroke="#000" stroke-width="2.3"/>
<line x1="461.8" y1="1334.3" x2="473.40000000000003" y2="1334.3" stroke="#000" stroke-width="2.6"/>
<line x1="461.8" y1="1339.3" x2="473.40000000000003" y2="1339.3" stroke="#000" stroke-width="2.6"/>
<rect x="464.1" y="1334.3" width="7" height="5.0" fill="#000"/>
<circle cx="467.6" cy="1336.8" r="3.3" fill="#000"/>
<rect x="503.7" y="1286.4" width="289.9" height="177.3" fill="none" stroke="#000" stroke-width="2.0"/>
<line x1="498.7" y1="1293.5" x2="503.7" y2="1293.5" stroke="#000" stroke-width="2.4"/>
<line x1="498.7" y1="1347.2" x2="503.7" y2="1347.2" stroke="#000" stroke-width="2.4"/>
<line x1="498.7" y1="1399.5" x2="503.7" y2="1399.5" stroke="#000" stroke-width="2.4"/>
<line x1="498.7" y1="1452.1" x2="503.7" y2="1452.1" stroke="#000" stroke-width="2.4"/>
<line x1="528" y1="1463.7" x2="528" y2="1467.2" stroke="#000" stroke-width="2.2"/>
<line x1="586.9" y1="1463.7" x2="586.9" y2="1467.2" stroke="#000" stroke-width="2.2"/>
<line x1="648.1" y1="1463.7" x2="648.1" y2="1467.2" stroke="#000" stroke-width="2.2"/>
<line x1="708.6" y1="1463.7" x2="708.6" y2="1467.2" stroke="#000" stroke-width="2.2"/>
<line x1="769.4" y1="1463.7" x2="769.4" y2="1467.2" stroke="#000" stroke-width="2.2"/>
<polyline points="517.8,1325.9 520.0,1324.3 522.2,1322.7 524.3,1321.2 526.5,1319.8 528.7,1318.5 530.9,1317.3 533.1,1316.1 535.2,1315.1 537.4,1314.2 539.6,1313.4 541.8,1312.6 543.9,1312.0 546.1,1311.5 548.3,1311.1 550.5,1310.8 552.7,1310.7 554.8,1310.6 557.0,1310.6 559.2,1310.8 561.4,1311.1 563.6,1311.4 565.7,1311.9 567.9,1312.5 570.1,1313.2 572.3,1314.0 574.5,1314.9 576.6,1315.9 578.8,1317.0 581.0,1318.2 583.2,1319.5 585.4,1320.9 587.5,1322.3 589.7,1323.9 591.9,1325.6 594.1,1327.3 596.2,1329.1 598.4,1331.0 600.6,1332.9 602.8,1334.9 605.0,1337.0 607.1,1339.1 609.3,1341.3 611.5,1343.5 613.7,1345.7 615.9,1348.1 618.0,1350.4 620.2,1352.8 622.4,1355.1 624.6,1357.6 626.8,1360.0 628.9,1362.4 631.1,1364.8 633.3,1367.3 635.5,1369.7 637.7,1372.1 639.8,1374.5 642.0,1376.9 644.2,1379.3 646.4,1381.6 648.5,1383.9 650.7,1386.2 652.9,1388.4 655.1,1390.5 657.3,1392.6 659.4,1394.7 661.6,1396.7 663.8,1398.6 666.0,1400.5 668.2,1402.3 670.3,1404.0 672.5,1405.6 674.7,1407.1 676.9,1408.6 679.1,1409.9 681.2,1411.2 683.4,1412.4 685.6,1413.5 687.8,1414.4 690.0,1415.3 692.1,1416.1 694.3,1416.8 696.5,1417.3 698.7,1417.8 700.8,1418.1 703.0,1418.4 705.2,1418.5 707.4,1418.5 709.6,1418.4 711.7,1418.2 713.9,1417.9 716.1,1417.5 718.3,1416.9 720.5,1416.3 722.6,1415.5 724.8,1414.7 727.0,1413.7 729.2,1412.7 731.4,1411.5 733.5,1410.3 735.7,1409.0 737.9,1407.5 740.1,1406.0 742.3,1404.4 744.4,1402.7 746.6,1401.0 748.8,1399.1 751.0,1397.2 753.1,1395.3 755.3,1393.2 757.5,1391.1 759.7,1389.0 761.9,1386.8 764.0,1384.5 766.2,1382.3 768.4,1379.9 770.6,1377.6 772.8,1375.2 774.9,1372.8 777.1,1370.4 779.3,1368.0" fill="none" stroke="#111" stroke-width="1.7"/>
<line x1="528" y1="1310.3" x2="528" y2="1321.3" stroke="#000" stroke-width="2.3"/>
<line x1="522.2" y1="1310.3" x2="533.8" y2="1310.3" stroke="#000" stroke-width="2.6"/>
<line x1="522.2" y1="1321.3" x2="533.8" y2="1321.3" stroke="#000" stroke-width="2.6"/>
<circle cx="528" cy="1315.8" r="3.3" fill="#000"/>
<line x1="586.9" y1="1314.0" x2="586.9" y2="1320.0" stroke="#000" stroke-width="2.3"/>
<line x1="581.1" y1="1314.0" x2="592.6999999999999" y2="1314.0" stroke="#000" stroke-width="2.6"/>
<line x1="581.1" y1="1320.0" x2="592.6999999999999" y2="1320.0" stroke="#000" stroke-width="2.6"/>
<rect x="583.4" y="1314.0" width="7" height="6.0" fill="#000"/>
<circle cx="586.9" cy="1317" r="3.3" fill="#000"/>
<line x1="648.1" y1="1394.6" x2="648.1" y2="1398.6" stroke="#000" stroke-width="2.3"/>
<line x1="642.3000000000001" y1="1394.6" x2="653.9" y2="1394.6" stroke="#000" stroke-width="2.6"/>
<line x1="642.3000000000001" y1="1398.6" x2="653.9" y2="1398.6" stroke="#000" stroke-width="2.6"/>
<rect x="644.6" y="1394.6" width="7" height="4.0" fill="#000"/>
<circle cx="648.1" cy="1396.6" r="3.3" fill="#000"/>
<line x1="708.6" y1="1401.7" x2="708.6" y2="1404.7" stroke="#000" stroke-width="2.3"/>
<line x1="702.8000000000001" y1="1401.7" x2="714.4" y2="1401.7" stroke="#000" stroke-width="2.6"/>
<line x1="702.8000000000001" y1="1404.7" x2="714.4" y2="1404.7" stroke="#000" stroke-width="2.6"/>
<rect x="705.1" y="1401.7" width="7" height="3.0" fill="#000"/>
<circle cx="708.6" cy="1403.2" r="3.3" fill="#000"/>
<line x1="769.4" y1="1387.5" x2="769.4" y2="1391.5" stroke="#000" stroke-width="2.3"/>
<line x1="763.6" y1="1387.5" x2="775.1999999999999" y2="1387.5" stroke="#000" stroke-width="2.6"/>
<line x1="763.6" y1="1391.5" x2="775.1999999999999" y2="1391.5" stroke="#000" stroke-width="2.6"/>
<rect x="765.9" y="1387.5" width="7" height="4.0" fill="#000"/>
<circle cx="769.4" cy="1389.5" r="3.3" fill="#000"/>
<rect x="804" y="1287.8" width="287.3" height="177.8" fill="none" stroke="#000" stroke-width="2.0"/>
<line x1="799.0" y1="1293.5" x2="804" y2="1293.5" stroke="#000" stroke-width="2.4"/>
<line x1="799.0" y1="1347.2" x2="804" y2="1347.2" stroke="#000" stroke-width="2.4"/>
<line x1="799.0" y1="1399.5" x2="804" y2="1399.5" stroke="#000" stroke-width="2.4"/>
<line x1="799.0" y1="1452.1" x2="804" y2="1452.1" stroke="#000" stroke-width="2.4"/>
<line x1="826.8" y1="1465.6" x2="826.8" y2="1469.1" stroke="#000" stroke-width="2.2"/>
<line x1="886.9" y1="1465.6" x2="886.9" y2="1469.1" stroke="#000" stroke-width="2.2"/>
<line x1="947.6" y1="1465.6" x2="947.6" y2="1469.1" stroke="#000" stroke-width="2.2"/>
<line x1="1007.7" y1="1465.6" x2="1007.7" y2="1469.1" stroke="#000" stroke-width="2.2"/>
<line x1="1067.7" y1="1465.6" x2="1067.7" y2="1469.1" stroke="#000" stroke-width="2.2"/>
<polyline points="816.7,1422.1 818.9,1422.8 821.1,1423.4 823.2,1424.1 825.4,1424.7 827.6,1425.3 829.8,1425.9 832.0,1426.5 834.1,1427.1 836.3,1427.6 838.5,1428.2 840.7,1428.7 842.9,1429.2 845.0,1429.6 847.2,1430.1 849.4,1430.5 851.6,1430.9 853.8,1431.2 855.9,1431.6 858.1,1431.9 860.3,1432.1 862.5,1432.4 864.7,1432.6 866.8,1432.7 869.0,1432.9 871.2,1433.0 873.4,1433.1 875.6,1433.1 877.7,1433.1 879.9,1433.1 882.1,1433.0 884.3,1432.9 886.5,1432.8 888.6,1432.6 890.8,1432.4 893.0,1432.2 895.2,1431.9 897.4,1431.6 899.5,1431.3 901.7,1430.9 903.9,1430.6 906.1,1430.2 908.3,1429.7 910.4,1429.3 912.6,1428.8 914.8,1428.3 917.0,1427.7 919.2,1427.2 921.3,1426.6 923.5,1426.0 925.7,1425.4 927.9,1424.8 930.1,1424.2 932.2,1423.6 934.4,1422.9 936.6,1422.3 938.8,1421.6 941.0,1420.9 943.1,1420.3 945.3,1419.6 947.5,1418.9 949.7,1418.2 951.9,1417.6 954.0,1416.9 956.2,1416.3 958.4,1415.6 960.6,1415.0 962.8,1414.4 964.9,1413.8 967.1,1413.2 969.3,1412.6 971.5,1412.1 973.7,1411.6 975.8,1411.0 978.0,1410.6 980.2,1410.1 982.4,1409.7 984.6,1409.3 986.7,1408.9 988.9,1408.5 991.1,1408.2 993.3,1407.9 995.5,1407.6 997.6,1407.4 999.8,1407.2 1002.0,1407.0 1004.2,1406.9 1006.4,1406.8 1008.5,1406.7 1010.7,1406.7 1012.9,1406.7 1015.1,1406.7 1017.3,1406.8 1019.4,1406.9 1021.6,1407.1 1023.8,1407.2 1026.0,1407.4 1028.2,1407.7 1030.3,1407.9 1032.5,1408.2 1034.7,1408.6 1036.9,1408.9 1039.1,1409.3 1041.2,1409.7 1043.4,1410.1 1045.6,1410.6 1047.8,1411.1 1050.0,1411.6 1052.1,1412.1 1054.3,1412.7 1056.5,1413.3 1058.7,1413.8 1060.9,1414.5 1063.0,1415.1 1065.2,1415.7 1067.4,1416.3 1069.6,1417.0 1071.8,1417.6 1073.9,1418.3 1076.1,1419.0 1078.3,1419.6" fill="none" stroke="#111" stroke-width="1.7"/>
<line x1="826.8" y1="1426.4" x2="826.8" y2="1430.4" stroke="#000" stroke-width="2.3"/>
<line x1="821.0" y1="1426.4" x2="832.5999999999999" y2="1426.4" stroke="#000" stroke-width="2.6"/>
<line x1="821.0" y1="1430.4" x2="832.5999999999999" y2="1430.4" stroke="#000" stroke-width="2.6"/>
<rect x="823.3" y="1426.4" width="7" height="4.0" fill="#000"/>
<circle cx="826.8" cy="1428.4" r="3.3" fill="#000"/>
<line x1="886.9" y1="1423.3" x2="886.9" y2="1427.3" stroke="#000" stroke-width="2.3"/>
<line x1="881.1" y1="1423.3" x2="892.6999999999999" y2="1423.3" stroke="#000" stroke-width="2.6"/>
<line x1="881.1" y1="1427.3" x2="892.6999999999999" y2="1427.3" stroke="#000" stroke-width="2.6"/>
<rect x="883.4" y="1423.3" width="7" height="4.0" fill="#000"/>
<circle cx="886.9" cy="1425.3" r="3.3" fill="#000"/>
<line x1="947.6" y1="1423.8" x2="947.6" y2="1426.8" stroke="#000" stroke-width="2.3"/>
<line x1="941.8000000000001" y1="1423.8" x2="953.4" y2="1423.8" stroke="#000" stroke-width="2.6"/>
<line x1="941.8000000000001" y1="1426.8" x2="953.4" y2="1426.8" stroke="#000" stroke-width="2.6"/>
<rect x="944.1" y="1423.8" width="7" height="3.0" fill="#000"/>
<circle cx="947.6" cy="1425.3" r="3.3" fill="#000"/>
<line x1="1007.7" y1="1396.4" x2="1007.7" y2="1401.4" stroke="#000" stroke-width="2.3"/>
<line x1="1001.9000000000001" y1="1396.4" x2="1013.5" y2="1396.4" stroke="#000" stroke-width="2.6"/>
<line x1="1001.9000000000001" y1="1401.4" x2="1013.5" y2="1401.4" stroke="#000" stroke-width="2.6"/>
<rect x="1004.2" y="1396.4" width="7" height="5.0" fill="#000"/>
<circle cx="1007.7" cy="1398.9" r="3.3" fill="#000"/>
<line x1="1067.7" y1="1420.3" x2="1067.7" y2="1423.3" stroke="#000" stroke-width="2.3"/>
<line x1="1061.9" y1="1420.3" x2="1073.5" y2="1420.3" stroke="#000" stroke-width="2.6"/>
<line x1="1061.9" y1="1423.3" x2="1073.5" y2="1423.3" stroke="#000" stroke-width="2.6"/>
<rect x="1064.2" y="1420.3" width="7" height="3.0" fill="#000"/>
<circle cx="1067.7" cy="1421.8" r="3.3" fill="#000"/>
<rect x="202.6" y="1473.2" width="288.0" height="179.8" fill="none" stroke="#000" stroke-width="2.0"/>
<line x1="197.6" y1="1482" x2="202.6" y2="1482" stroke="#000" stroke-width="2.4"/>
<line x1="197.6" y1="1531.8" x2="202.6" y2="1531.8" stroke="#000" stroke-width="2.4"/>
<line x1="197.6" y1="1583" x2="202.6" y2="1583" stroke="#000" stroke-width="2.4"/>
<line x1="197.6" y1="1634" x2="202.6" y2="1634" stroke="#000" stroke-width="2.4"/>
<polyline points="214.3,1531.7 216.5,1534.4 218.7,1537.1 220.9,1539.9 223.1,1542.7 225.3,1545.5 227.5,1548.3 229.7,1551.1 231.9,1553.9 234.1,1556.6 236.3,1559.2 238.5,1561.8 240.7,1564.3 242.9,1566.6 245.1,1568.9 247.3,1570.9 249.5,1572.9 251.7,1574.7 253.9,1576.3 256.1,1577.7 258.3,1579.0 260.5,1580.1 262.7,1580.9 264.9,1581.6 267.1,1582.0 269.3,1582.3 271.5,1582.3 273.7,1582.1 275.9,1581.7 278.1,1581.1 280.3,1580.3 282.5,1579.2 284.7,1578.0 286.9,1576.6 289.1,1575.0 291.3,1573.3 293.5,1571.4 295.7,1569.3 297.9,1567.1 300.1,1564.8 302.3,1562.3 304.5,1559.8 306.7,1557.1 308.9,1554.5 311.1,1551.7 313.3,1548.9 315.5,1546.1 317.7,1543.3 319.9,1540.5 322.1,1537.7 324.3,1535.0 326.5,1532.3 328.7,1529.7 330.9,1527.2 333.1,1524.8 335.3,1522.5 337.5,1520.3 339.7,1518.3 341.9,1516.4 344.1,1514.7 346.4,1513.2 348.6,1511.8 350.8,1510.6 353.0,1509.7 355.2,1508.9 357.4,1508.4 359.6,1508.0 361.8,1507.9 364.0,1508.0 366.2,1508.3 368.4,1508.8 370.6,1509.5 372.8,1510.4 375.0,1511.5 377.2,1512.8 379.4,1514.3 381.6,1516.0 383.8,1517.8 386.0,1519.8 388.2,1522.0 390.4,1524.2 392.6,1526.6 394.8,1529.1 397.0,1531.7 399.2,1534.4 401.4,1537.1 403.6,1539.9 405.8,1542.7 408.0,1545.5 410.2,1548.3 412.4,1551.1 414.6,1553.8 416.8,1556.6 419.0,1559.2 421.2,1561.8 423.4,1564.2 425.6,1566.6 427.8,1568.8 430.0,1570.9 432.2,1572.9 434.4,1574.7 436.6,1576.3 438.8,1577.7 441.0,1579.0 443.2,1580.1 445.4,1580.9 447.6,1581.6 449.8,1582.0 452.0,1582.3 454.2,1582.3 456.4,1582.1 458.6,1581.7 460.8,1581.1 463.0,1580.3 465.2,1579.3 467.4,1578.0 469.6,1576.6 471.8,1575.1 474.0,1573.3 476.2,1571.4 478.4,1569.3" fill="none" stroke="#111" stroke-width="1.7"/>
<line x1="224.2" y1="1529.9" x2="224.2" y2="1532.9" stroke="#000" stroke-width="2.3"/>
<line x1="218.39999999999998" y1="1529.9" x2="230.0" y2="1529.9" stroke="#000" stroke-width="2.6"/>
<line x1="218.39999999999998" y1="1532.9" x2="230.0" y2="1532.9" stroke="#000" stroke-width="2.6"/>
<rect x="220.7" y="1529.9" width="7" height="3.0" fill="#000"/>
<circle cx="224.2" cy="1531.4" r="3.3" fill="#000"/>
<line x1="285.2" y1="1610.4" x2="285.2" y2="1613.4" stroke="#000" stroke-width="2.3"/>
<line x1="279.4" y1="1610.4" x2="291.0" y2="1610.4" stroke="#000" stroke-width="2.6"/>
<line x1="279.4" y1="1613.4" x2="291.0" y2="1613.4" stroke="#000" stroke-width="2.6"/>
<rect x="281.7" y="1610.4" width="7" height="3.0" fill="#000"/>
<circle cx="285.2" cy="1611.9" r="3.3" fill="#000"/>
<line x1="346.2" y1="1509.6" x2="346.2" y2="1515.6" stroke="#000" stroke-width="2.3"/>
<line x1="340.4" y1="1509.6" x2="352.0" y2="1509.6" stroke="#000" stroke-width="2.6"/>
<line x1="340.4" y1="1515.6" x2="352.0" y2="1515.6" stroke="#000" stroke-width="2.6"/>
<rect x="342.7" y="1509.6" width="7" height="6.0" fill="#000"/>
<circle cx="346.2" cy="1512.6" r="3.3" fill="#000"/>
<line x1="406.8" y1="1554.1" x2="406.8" y2="1557.1" stroke="#000" stroke-width="2.3"/>
<line x1="401.0" y1="1554.1" x2="412.6" y2="1554.1" stroke="#000" stroke-width="2.6"/>
<line x1="401.0" y1="1557.1" x2="412.6" y2="1557.1" stroke="#000" stroke-width="2.6"/>
<rect x="403.3" y="1554.1" width="7" height="3.0" fill="#000"/>
<circle cx="406.8" cy="1555.6" r="3.3" fill="#000"/>
<line x1="467.8" y1="1539.6" x2="467.8" y2="1545.6" stroke="#000" stroke-width="2.3"/>
<line x1="462.0" y1="1539.6" x2="473.6" y2="1539.6" stroke="#000" stroke-width="2.6"/>
<line x1="462.0" y1="1545.6" x2="473.6" y2="1545.6" stroke="#000" stroke-width="2.6"/>
<rect x="464.3" y="1539.6" width="7" height="6.0" fill="#000"/>
<circle cx="467.8" cy="1542.6" r="3.3" fill="#000"/>
<rect x="503.7" y="1475.1" width="288.0" height="178.5" fill="none" stroke="#000" stroke-width="2.0"/>
<line x1="498.7" y1="1482" x2="503.7" y2="1482" stroke="#000" stroke-width="2.4"/>
<line x1="498.7" y1="1531.8" x2="503.7" y2="1531.8" stroke="#000" stroke-width="2.4"/>
<line x1="498.7" y1="1583" x2="503.7" y2="1583" stroke="#000" stroke-width="2.4"/>
<line x1="498.7" y1="1634" x2="503.7" y2="1634" stroke="#000" stroke-width="2.4"/>
<polyline points="516.7,1527.3 518.9,1529.6 521.1,1531.9 523.3,1534.3 525.5,1536.7 527.7,1539.1 529.9,1541.5 532.1,1543.9 534.3,1546.2 536.5,1548.6 538.7,1550.9 540.9,1553.2 543.1,1555.5 545.3,1557.8 547.5,1560.0 549.7,1562.2 551.9,1564.3 554.1,1566.3 556.3,1568.3 558.5,1570.3 560.6,1572.1 562.8,1573.9 565.0,1575.6 567.2,1577.3 569.4,1578.8 571.6,1580.3 573.8,1581.6 576.0,1582.9 578.2,1584.1 580.4,1585.2 582.6,1586.1 584.8,1587.0 587.0,1587.8 589.2,1588.4 591.4,1589.0 593.6,1589.4 595.8,1589.7 598.0,1589.9 600.2,1590.0 602.4,1590.0 604.6,1589.8 606.8,1589.6 609.0,1589.2 611.2,1588.7 613.4,1588.2 615.6,1587.5 617.8,1586.7 620.0,1585.8 622.2,1584.7 624.4,1583.6 626.6,1582.4 628.8,1581.1 631.0,1579.7 633.2,1578.2 635.4,1576.6 637.6,1575.0 639.8,1573.2 642.0,1571.4 644.2,1569.5 646.4,1567.5 648.5,1565.5 650.7,1563.4 652.9,1561.3 655.1,1559.1 657.3,1556.9 659.5,1554.6 661.7,1552.3 663.9,1550.0 666.1,1547.6 668.3,1545.3 670.5,1542.9 672.7,1540.5 674.9,1538.1 677.1,1535.7 679.3,1533.4 681.5,1531.0 683.7,1528.7 685.9,1526.3 688.1,1524.1 690.3,1521.8 692.5,1519.6 694.7,1517.4 696.9,1515.3 699.1,1513.3 701.3,1511.3 703.5,1509.4 705.7,1507.5 707.9,1505.7 710.1,1504.0 712.3,1502.4 714.5,1500.8 716.7,1499.4 718.9,1498.0 721.1,1496.7 723.3,1495.6 725.5,1494.5 727.7,1493.5 729.9,1492.7 732.1,1491.9 734.3,1491.3 736.5,1490.7 738.6,1490.3 740.8,1490.0 743.0,1489.8 745.2,1489.7 747.4,1489.7 749.6,1489.9 751.8,1490.1 754.0,1490.5 756.2,1491.0 758.4,1491.6 760.6,1492.3 762.8,1493.1 765.0,1494.0 767.2,1495.0 769.4,1496.1 771.6,1497.3 773.8,1498.7 776.0,1500.1 778.2,1501.6 780.4,1503.2" fill="none" stroke="#111" stroke-width="1.7"/>
<line x1="525.6" y1="1543.1" x2="525.6" y2="1555.5" stroke="#000" stroke-width="2.3"/>
<line x1="519.8000000000001" y1="1543.1" x2="531.4" y2="1543.1" stroke="#000" stroke-width="2.6"/>
<line x1="519.8000000000001" y1="1555.5" x2="531.4" y2="1555.5" stroke="#000" stroke-width="2.6"/>
<circle cx="525.6" cy="1549.3" r="3.3" fill="#000"/>
<line x1="586.1" y1="1567.9" x2="586.1" y2="1573.9" stroke="#000" stroke-width="2.3"/>
<line x1="580.3000000000001" y1="1567.9" x2="591.9" y2="1567.9" stroke="#000" stroke-width="2.6"/>
<line x1="580.3000000000001" y1="1573.9" x2="591.9" y2="1573.9" stroke="#000" stroke-width="2.6"/>
<rect x="582.6" y="1567.9" width="7" height="6.0" fill="#000"/>
<circle cx="586.1" cy="1570.9" r="3.3" fill="#000"/>
<line x1="646.9" y1="1582.4" x2="646.9" y2="1585.4" stroke="#000" stroke-width="2.3"/>
<line x1="641.1" y1="1582.4" x2="652.6999999999999" y2="1582.4" stroke="#000" stroke-width="2.6"/>
<line x1="641.1" y1="1585.4" x2="652.6999999999999" y2="1585.4" stroke="#000" stroke-width="2.6"/>
<rect x="643.4" y="1582.4" width="7" height="3.0" fill="#000"/>
<circle cx="646.9" cy="1583.9" r="3.3" fill="#000"/>
<line x1="708.6" y1="1483.0" x2="708.6" y2="1493.0" stroke="#000" stroke-width="2.3"/>
<line x1="702.8000000000001" y1="1483.0" x2="714.4" y2="1483.0" stroke="#000" stroke-width="2.6"/>
<line x1="702.8000000000001" y1="1493.0" x2="714.4" y2="1493.0" stroke="#000" stroke-width="2.6"/>
<circle cx="708.6" cy="1488" r="3.3" fill="#000"/>
<line x1="769.4" y1="1496.8" x2="769.4" y2="1503.8" stroke="#000" stroke-width="2.3"/>
<line x1="763.6" y1="1496.8" x2="775.1999999999999" y2="1496.8" stroke="#000" stroke-width="2.6"/>
<line x1="763.6" y1="1503.8" x2="775.1999999999999" y2="1503.8" stroke="#000" stroke-width="2.6"/>
<rect x="765.9" y="1496.8" width="7" height="7.0" fill="#000"/>
<circle cx="769.4" cy="1500.3" r="3.3" fill="#000"/>
<rect x="804.9" y="1475.1" width="285.7" height="177.8" fill="none" stroke="#000" stroke-width="2.0"/>
<line x1="799.9" y1="1482" x2="804.9" y2="1482" stroke="#000" stroke-width="2.4"/>
<line x1="799.9" y1="1531.8" x2="804.9" y2="1531.8" stroke="#000" stroke-width="2.4"/>
<line x1="799.9" y1="1583" x2="804.9" y2="1583" stroke="#000" stroke-width="2.4"/>
<line x1="799.9" y1="1634" x2="804.9" y2="1634" stroke="#000" stroke-width="2.4"/>
<polyline points="818.6,1582.4 820.8,1584.0 822.9,1585.6 825.1,1587.1 827.2,1588.6 829.4,1590.1 831.6,1591.4 833.7,1592.7 835.9,1593.9 838.0,1595.1 840.2,1596.1 842.3,1597.1 844.5,1598.0 846.7,1598.8 848.8,1599.6 851.0,1600.2 853.1,1600.8 855.3,1601.2 857.5,1601.6 859.6,1601.9 861.8,1602.1 863.9,1602.2 866.1,1602.2 868.2,1602.1 870.4,1601.9 872.6,1601.6 874.7,1601.3 876.9,1600.8 879.0,1600.2 881.2,1599.6 883.4,1598.9 885.5,1598.0 887.7,1597.1 889.8,1596.2 892.0,1595.1 894.1,1593.9 896.3,1592.7 898.5,1591.4 900.6,1590.1 902.8,1588.7 904.9,1587.2 907.1,1585.6 909.2,1584.0 911.4,1582.4 913.6,1580.7 915.7,1579.0 917.9,1577.2 920.0,1575.4 922.2,1573.6 924.4,1571.7 926.5,1569.8 928.7,1567.9 930.8,1566.0 933.0,1564.1 935.1,1562.2 937.3,1560.2 939.5,1558.3 941.6,1556.4 943.8,1554.6 945.9,1552.7 948.1,1550.8 950.3,1549.0 952.4,1547.3 954.6,1545.5 956.7,1543.8 958.9,1542.2 961.0,1540.6 963.2,1539.0 965.4,1537.5 967.5,1536.1 969.7,1534.7 971.8,1533.4 974.0,1532.2 976.2,1531.1 978.3,1530.0 980.5,1529.0 982.6,1528.1 984.8,1527.2 986.9,1526.5 989.1,1525.8 991.3,1525.3 993.4,1524.8 995.6,1524.4 997.7,1524.1 999.9,1523.9 1002.1,1523.8 1004.2,1523.8 1006.4,1523.9 1008.5,1524.1 1010.7,1524.3 1012.8,1524.7 1015.0,1525.2 1017.2,1525.7 1019.3,1526.3 1021.5,1527.1 1023.6,1527.9 1025.8,1528.8 1028.0,1529.7 1030.1,1530.8 1032.3,1531.9 1034.4,1533.1 1036.6,1534.4 1038.8,1535.8 1040.9,1537.2 1043.1,1538.7 1045.2,1540.2 1047.4,1541.8 1049.5,1543.4 1051.7,1545.1 1053.9,1546.8 1056.0,1548.6 1058.2,1550.4 1060.3,1552.2 1062.5,1554.1 1064.6,1556.0 1066.8,1557.9 1069.0,1559.8 1071.1,1561.7 1073.3,1563.6 1075.4,1565.5 1077.6,1567.5" fill="none" stroke="#111" stroke-width="1.7"/>
<line x1="827.3" y1="1579.9" x2="827.3" y2="1585.9" stroke="#000" stroke-width="2.3"/>
<line x1="821.5" y1="1579.9" x2="833.0999999999999" y2="1579.9" stroke="#000" stroke-width="2.6"/>
<line x1="821.5" y1="1585.9" x2="833.0999999999999" y2="1585.9" stroke="#000" stroke-width="2.6"/>
<rect x="823.8" y="1579.9" width="7" height="6.0" fill="#000"/>
<circle cx="827.3" cy="1582.9" r="3.3" fill="#000"/>
<line x1="888" y1="1607.8" x2="888" y2="1610.8" stroke="#000" stroke-width="2.3"/>
<line x1="882.2" y1="1607.8" x2="893.8" y2="1607.8" stroke="#000" stroke-width="2.6"/>
<line x1="882.2" y1="1610.8" x2="893.8" y2="1610.8" stroke="#000" stroke-width="2.6"/>
<rect x="884.5" y="1607.8" width="7" height="3.0" fill="#000"/>
<circle cx="888" cy="1609.3" r="3.3" fill="#000"/>
<line x1="948.1" y1="1532.2" x2="948.1" y2="1537.2" stroke="#000" stroke-width="2.3"/>
<line x1="942.3000000000001" y1="1532.2" x2="953.9" y2="1532.2" stroke="#000" stroke-width="2.6"/>
<line x1="942.3000000000001" y1="1537.2" x2="953.9" y2="1537.2" stroke="#000" stroke-width="2.6"/>
<rect x="944.6" y="1532.2" width="7" height="5.0" fill="#000"/>
<circle cx="948.1" cy="1534.7" r="3.3" fill="#000"/>
<line x1="1007.4" y1="1534.8" x2="1007.4" y2="1537.8" stroke="#000" stroke-width="2.3"/>
<line x1="1001.6" y1="1534.8" x2="1013.1999999999999" y2="1534.8" stroke="#000" stroke-width="2.6"/>
<line x1="1001.6" y1="1537.8" x2="1013.1999999999999" y2="1537.8" stroke="#000" stroke-width="2.6"/>
<rect x="1003.9" y="1534.8" width="7" height="3.0" fill="#000"/>
<circle cx="1007.4" cy="1536.3" r="3.3" fill="#000"/>
<line x1="1068.2" y1="1548.1" x2="1068.2" y2="1555.1" stroke="#000" stroke-width="2.3"/>
<line x1="1062.4" y1="1548.1" x2="1074.0" y2="1548.1" stroke="#000" stroke-width="2.6"/>
<line x1="1062.4" y1="1555.1" x2="1074.0" y2="1555.1" stroke="#000" stroke-width="2.6"/>
<rect x="1064.7" y="1548.1" width="7" height="7.0" fill="#000"/>
<circle cx="1068.2" cy="1551.6" r="3.3" fill="#000"/>
<text x="194.5" y="548.2" font-size="30" text-anchor="end">2.5</text>
<text x="189.3" y="711.0" font-size="30" text-anchor="end">0</text>
<text x="187.5" y="738.4" font-size="30" text-anchor="end">2.0</text>
<text x="190.1" y="894.2" font-size="30" text-anchor="end">0</text>
<text x="187.0" y="928.0" font-size="30" text-anchor="end">1.5</text>
<text x="187.2" y="1081.0" font-size="30" text-anchor="end">0</text>
<text x="187.0" y="1117.5" font-size="30" text-anchor="end">1.5</text>
<text x="187.4" y="1273.7" font-size="30" text-anchor="end">0</text>
<text x="188.0" y="1308.0" font-size="30" text-anchor="end">3.0</text>
<text x="186.1" y="1461.2" font-size="30" text-anchor="end">0</text>
<text x="185.6" y="1498.0" font-size="30" text-anchor="end">1.5</text>
<text x="185.5" y="1647.0" font-size="30" text-anchor="end">0</text>
<text x="196.0" y="1686.9" font-size="31">20h</text>
<text x="255.7" y="1686.9" font-size="31">26h</text>
<text x="318.6" y="1689.7" font-size="31">32h</text>
<text x="380.7" y="1686.9" font-size="31">38h</text>
<text x="440.4" y="1686.9" font-size="31">44h</text>
<text x="500.8" y="1686.9" font-size="31">20h</text>
<text x="560.5" y="1686.9" font-size="31">26h</text>
<text x="623.4" y="1689.7" font-size="31">32h</text>
<text x="685.5" y="1686.9" font-size="31">38h</text>
<text x="745.2" y="1686.9" font-size="31">44h</text>
<text x="803.0" y="1686.9" font-size="31">20h</text>
<text x="862.7" y="1686.9" font-size="31">26h</text>
<text x="925.6" y="1689.7" font-size="31">32h</text>
<text x="987.7" y="1686.9" font-size="31">38h</text>
<text x="1047.4" y="1686.9" font-size="31">44h</text>
<text x="76.5" y="1756.0" font-size="40">c</text>
<line x1="169" y1="1765.5" x2="1293.5" y2="1765.5" stroke="#000" stroke-width="2.2"/>
<line x1="1292.6" y1="1765" x2="1292.6" y2="2492.8" stroke="#000" stroke-width="2.0"/>
<line x1="169" y1="1838.6" x2="1293.5" y2="1838.6" stroke="#000" stroke-width="2.0"/>
<text x="273.0" y="1797.2" font-size="30" text-anchor="middle" font-weight="bold">Cells</text>
<text x="447.0" y="1797.2" font-size="30" text-anchor="middle" font-weight="bold">Period</text>
<text x="447.0" y="1831.2" font-size="30" text-anchor="middle" font-weight="bold">(h)</text>
<text x="613.0" y="1797.2" font-size="30" text-anchor="middle" font-weight="bold">Amplitude</text>
<text x="812.5" y="1797.2" font-size="30" text-anchor="middle" font-weight="bold">Acrophase</text>
<text x="812.5" y="1831.2" font-size="30" text-anchor="middle" font-weight="bold">(h)</text>
<text x="1002.5" y="1797.2" font-size="30" text-anchor="middle" font-weight="bold">p-value</text>
<text x="1189.0" y="1797.2" font-size="30" text-anchor="middle" font-weight="bold">Acrophase</text>
<text x="1189.0" y="1831.2" font-size="30" text-anchor="middle" font-weight="bold">shift (h)</text>
<text x="273.0" y="1867.1" font-size="31.4" text-anchor="middle">HCT116</text>
<text x="447.0" y="1867.1" font-size="30.8" text-anchor="middle">30</text>
<text x="613.0" y="1867.1" font-size="30.8" text-anchor="middle">0.45</text>
<text x="812.5" y="1867.1" font-size="30.8" text-anchor="middle">28.00</text>
<text x="1002.5" y="1867.1" font-size="30.8" text-anchor="middle">0.0038</text>
<text x="1189.0" y="1867.1" font-size="30.8" text-anchor="middle">0</text>
<text x="273.0" y="1903.4" font-size="31.4" text-anchor="middle">HCT116 IL6</text>
<text x="447.0" y="1903.4" font-size="30.8" text-anchor="middle">30</text>
<text x="613.0" y="1903.4" font-size="30.8" text-anchor="middle">0.26</text>
<text x="812.5" y="1903.4" font-size="30.8" text-anchor="middle">22.27</text>
<text x="1002.5" y="1903.4" font-size="30.8" text-anchor="middle">0.0525</text>
<text x="1189.0" y="1903.4" font-size="30.8" text-anchor="middle">-5.73</text>
<text x="273.0" y="1939.7" font-size="31.4" text-anchor="middle">HCT116 IL8</text>
<text x="447.0" y="1939.7" font-size="30.8" text-anchor="middle">30</text>
<text x="613.0" y="1939.7" font-size="30.8" text-anchor="middle">0.47</text>
<text x="812.5" y="1939.7" font-size="30.8" text-anchor="middle">26.97</text>
<text x="1002.5" y="1939.7" font-size="30.8" text-anchor="middle">0.0001</text>
<text x="1189.0" y="1939.7" font-size="30.8" text-anchor="middle">-1.03</text>
<line x1="169" y1="1947.2" x2="1293.5" y2="1947.2" stroke="#000" stroke-width="2.0"/>
<text x="121.3" y="1901.0" font-size="30" text-anchor="end">Clock</text>
<path d="M162.5,1847.9 Q148.5,1847.9 148.5,1853.9 L148.5,1890.3 Q148.5,1894.3 136,1894.3 Q148.5,1894.3 148.5,1898.3 L148.5,1934.7 Q148.5,1940.7 162.5,1940.7" fill="none" stroke="#111" stroke-width="1.9"/>
<text x="273.0" y="1975.6" font-size="31.4" text-anchor="middle">HCT116</text>
<text x="447.0" y="1975.6" font-size="30.8" text-anchor="middle">18</text>
<text x="613.0" y="1975.6" font-size="30.8" text-anchor="middle">0.32</text>
<text x="812.5" y="1975.6" font-size="30.8" text-anchor="middle">27.36</text>
<text x="1002.5" y="1975.6" font-size="30.8" text-anchor="middle">1.12x10<tspan font-size="20" dy="-9.5">-5</tspan></text>
<text x="1189.0" y="1975.6" font-size="30.8" text-anchor="middle">0</text>
<text x="273.0" y="2011.9" font-size="31.4" text-anchor="middle">HCT116 IL6</text>
<text x="447.0" y="2011.9" font-size="30.8" text-anchor="middle">30</text>
<text x="613.0" y="2011.9" font-size="30.8" text-anchor="middle">0.50</text>
<text x="812.5" y="2011.9" font-size="30.8" text-anchor="middle">44.35</text>
<text x="1002.5" y="2011.9" font-size="30.8" text-anchor="middle">4.73x10<tspan font-size="20" dy="-9.5">-5</tspan></text>
<text x="1189.0" y="2011.9" font-size="30.8" text-anchor="middle">16.99</text>
<text x="273.0" y="2048.2" font-size="31.4" text-anchor="middle">HCT116 IL8</text>
<text x="447.0" y="2048.2" font-size="30.8" text-anchor="middle">30</text>
<text x="613.0" y="2048.2" font-size="30.8" text-anchor="middle">0.60</text>
<text x="812.5" y="2048.2" font-size="30.8" text-anchor="middle">38.02</text>
<text x="1002.5" y="2048.2" font-size="30.8" text-anchor="middle">3.51x10<tspan font-size="20" dy="-9.5">7</tspan></text>
<text x="1189.0" y="2048.2" font-size="30.8" text-anchor="middle">10.67</text>
<line x1="169" y1="2056.6" x2="1293.5" y2="2056.6" stroke="#000" stroke-width="2.0"/>
<text x="124.3" y="2011.7" font-size="30" text-anchor="end">Bmal1</text>
<path d="M162.5,1956.4 Q148.5,1956.4 148.5,1962.4 L148.5,1998.8 Q148.5,2002.8 136,2002.8 Q148.5,2002.8 148.5,2006.8 L148.5,2043.2 Q148.5,2049.2 162.5,2049.2" fill="none" stroke="#111" stroke-width="1.9"/>
<text x="273.0" y="2085.0" font-size="31.4" text-anchor="middle">HCT116</text>
<text x="447.0" y="2085.0" font-size="30.8" text-anchor="middle">21.4</text>
<text x="613.0" y="2085.0" font-size="30.8" text-anchor="middle">0.18</text>
<text x="812.5" y="2085.0" font-size="30.8" text-anchor="middle">39.69</text>
<text x="1002.5" y="2085.0" font-size="30.8" text-anchor="middle">3.65x10<tspan font-size="20" dy="-9.5">-8</tspan></text>
<text x="1189.0" y="2085.0" font-size="30.8" text-anchor="middle">0</text>
<text x="273.0" y="2121.3" font-size="31.4" text-anchor="middle">HCT116 IL6</text>
<text x="447.0" y="2121.3" font-size="30.8" text-anchor="middle">30</text>
<text x="613.0" y="2121.3" font-size="30.8" text-anchor="middle">0.50</text>
<text x="812.5" y="2121.3" font-size="30.8" text-anchor="middle">43.26</text>
<text x="1002.5" y="2121.3" font-size="30.8" text-anchor="middle">0.0001</text>
<text x="1189.0" y="2121.3" font-size="30.8" text-anchor="middle">3.57</text>
<text x="273.0" y="2157.6" font-size="31.4" text-anchor="middle">HCT116 IL8</text>
<text x="447.0" y="2157.6" font-size="30.8" text-anchor="middle">18</text>
<text x="613.0" y="2157.6" font-size="30.8" text-anchor="middle">0.26</text>
<text x="812.5" y="2157.6" font-size="30.8" text-anchor="middle">23.32</text>
<text x="1002.5" y="2157.6" font-size="30.8" text-anchor="middle">0.0004</text>
<text x="1189.0" y="2157.6" font-size="30.8" text-anchor="middle">-16.37</text>
<line x1="169" y1="2165.5" x2="1293.5" y2="2165.5" stroke="#000" stroke-width="2.0"/>
<text x="127.0" y="2121.0" font-size="30" text-anchor="end">Per1</text>
<path d="M162.5,2065.8 Q148.5,2065.8 148.5,2071.8 L148.5,2108.2 Q148.5,2112.2 136,2112.2 Q148.5,2112.2 148.5,2116.2 L148.5,2152.6 Q148.5,2158.6 162.5,2158.6" fill="none" stroke="#111" stroke-width="1.9"/>
<text x="273.0" y="2193.9" font-size="31.4" text-anchor="middle">HCT116</text>
<text x="447.0" y="2193.9" font-size="30.8" text-anchor="middle">21.6</text>
<text x="613.0" y="2193.9" font-size="30.8" text-anchor="middle">0.30</text>
<text x="812.5" y="2193.9" font-size="30.8" text-anchor="middle">28.53</text>
<text x="1002.5" y="2193.9" font-size="30.8" text-anchor="middle">3.12x10<tspan font-size="20" dy="-9.5">-7</tspan></text>
<text x="1189.0" y="2193.9" font-size="30.8" text-anchor="middle">0</text>
<text x="273.0" y="2230.2" font-size="31.4" text-anchor="middle">HCT116 IL6</text>
<text x="447.0" y="2230.2" font-size="30.8" text-anchor="middle">18</text>
<text x="613.0" y="2230.2" font-size="30.8" text-anchor="middle">0.20</text>
<text x="812.5" y="2230.2" font-size="30.8" text-anchor="middle">25.56</text>
<text x="1002.5" y="2230.2" font-size="30.8" text-anchor="middle">0.0237</text>
<text x="1189.0" y="2230.2" font-size="30.8" text-anchor="middle">-2.97</text>
<text x="273.0" y="2266.5" font-size="31.4" text-anchor="middle">HCT116 IL8</text>
<text x="447.0" y="2266.5" font-size="30.8" text-anchor="middle">30</text>
<text x="613.0" y="2266.5" font-size="30.8" text-anchor="middle">0.44</text>
<text x="812.5" y="2266.5" font-size="30.8" text-anchor="middle">28.79</text>
<text x="1002.5" y="2266.5" font-size="30.8" text-anchor="middle">9.97x10<tspan font-size="20" dy="-9.5">-9</tspan></text>
<text x="1189.0" y="2266.5" font-size="30.8" text-anchor="middle">0.26</text>
<line x1="169" y1="2274.5" x2="1293.5" y2="2274.5" stroke="#000" stroke-width="2.0"/>
<text x="124.3" y="2229.0" font-size="30" text-anchor="end">Cry1</text>
<path d="M162.5,2174.7 Q148.5,2174.7 148.5,2180.7 L148.5,2217.1 Q148.5,2221.1 136,2221.1 Q148.5,2221.1 148.5,2225.1 L148.5,2261.5 Q148.5,2267.5 162.5,2267.5" fill="none" stroke="#111" stroke-width="1.9"/>
<text x="273.0" y="2302.9" font-size="31.4" text-anchor="middle">HCT116</text>
<text x="447.0" y="2302.9" font-size="30.8" text-anchor="middle">18</text>
<text x="613.0" y="2302.9" font-size="30.8" text-anchor="middle">0.59</text>
<text x="812.5" y="2302.9" font-size="30.8" text-anchor="middle">26.55</text>
<text x="1002.5" y="2302.9" font-size="30.8" text-anchor="middle">0.0010</text>
<text x="1189.0" y="2302.9" font-size="30.8" text-anchor="middle">0</text>
<text x="273.0" y="2339.2" font-size="31.4" text-anchor="middle">HCT116 IL6</text>
<text x="447.0" y="2339.2" font-size="30.8" text-anchor="middle">30</text>
<text x="613.0" y="2339.2" font-size="30.8" text-anchor="middle">1.02</text>
<text x="812.5" y="2339.2" font-size="30.8" text-anchor="middle">22.76</text>
<text x="1002.5" y="2339.2" font-size="30.8" text-anchor="middle">2.29x10<tspan font-size="20" dy="-9.5">-7</tspan></text>
<text x="1189.0" y="2339.2" font-size="30.8" text-anchor="middle">-3.79</text>
<text x="273.0" y="2375.5" font-size="31.4" text-anchor="middle">HCT116 IL8</text>
<text x="447.0" y="2375.5" font-size="30.8" text-anchor="middle">26.7</text>
<text x="613.0" y="2375.5" font-size="30.8" text-anchor="middle">0.26</text>
<text x="812.5" y="2375.5" font-size="30.8" text-anchor="middle">37.89</text>
<text x="1002.5" y="2375.5" font-size="30.8" text-anchor="middle">0.0012</text>
<text x="1189.0" y="2375.5" font-size="30.8" text-anchor="middle">11.34</text>
<line x1="169" y1="2383.4" x2="1293.5" y2="2383.4" stroke="#000" stroke-width="2.0"/>
<text x="122.0" y="2339.8" font-size="30" text-anchor="end">TIM</text>
<path d="M162.5,2283.7 Q148.5,2283.7 148.5,2289.7 L148.5,2326.1 Q148.5,2330.1 136,2330.1 Q148.5,2330.1 148.5,2334.1 L148.5,2370.5 Q148.5,2376.5 162.5,2376.5" fill="none" stroke="#111" stroke-width="1.9"/>
<text x="273.0" y="2411.8" font-size="31.4" text-anchor="middle">HCT116</text>
<text x="447.0" y="2411.8" font-size="30.8" text-anchor="middle">18</text>
<text x="613.0" y="2411.8" font-size="30.8" text-anchor="middle">0.37</text>
<text x="812.5" y="2411.8" font-size="30.8" text-anchor="middle">33.54</text>
<text x="1002.5" y="2411.8" font-size="30.8" text-anchor="middle">0.0123</text>
<text x="1189.0" y="2411.8" font-size="30.8" text-anchor="middle">0</text>
<text x="273.0" y="2448.1" font-size="31.4" text-anchor="middle">HCT116 IL6</text>
<text x="447.0" y="2448.1" font-size="30.8" text-anchor="middle">28.7</text>
<text x="613.0" y="2448.1" font-size="30.8" text-anchor="middle">0.49</text>
<text x="812.5" y="2448.1" font-size="30.8" text-anchor="middle">41.45</text>
<text x="1002.5" y="2448.1" font-size="30.8" text-anchor="middle">2.07x10<tspan font-size="20" dy="-9.5">-5</tspan></text>
<text x="1189.0" y="2448.1" font-size="30.8" text-anchor="middle">7.92</text>
<text x="273.0" y="2484.4" font-size="31.4" text-anchor="middle">HCT116 IL8</text>
<text x="447.0" y="2484.4" font-size="30.8" text-anchor="middle">27.4</text>
<text x="613.0" y="2484.4" font-size="30.8" text-anchor="middle">0.39</text>
<text x="812.5" y="2484.4" font-size="30.8" text-anchor="middle">37.55</text>
<text x="1002.5" y="2484.4" font-size="30.8" text-anchor="middle">2.07x10<tspan font-size="20" dy="-9.5">-5</tspan></text>
<text x="1189.0" y="2484.4" font-size="30.8" text-anchor="middle">4.02</text>
<line x1="169" y1="2492.0" x2="1293.5" y2="2492.0" stroke="#000" stroke-width="2.0"/>
<text x="121.4" y="2449.6" font-size="30" text-anchor="end">pERK1/2</text>
<path d="M162.5,2392.6 Q148.5,2392.6 148.5,2398.6 L148.5,2435.0 Q148.5,2439.0 136,2439.0 Q148.5,2439.0 148.5,2443.0 L148.5,2479.4 Q148.5,2485.4 162.5,2485.4" fill="none" stroke="#111" stroke-width="1.9"/>
</g>
</svg></div></body></html>
